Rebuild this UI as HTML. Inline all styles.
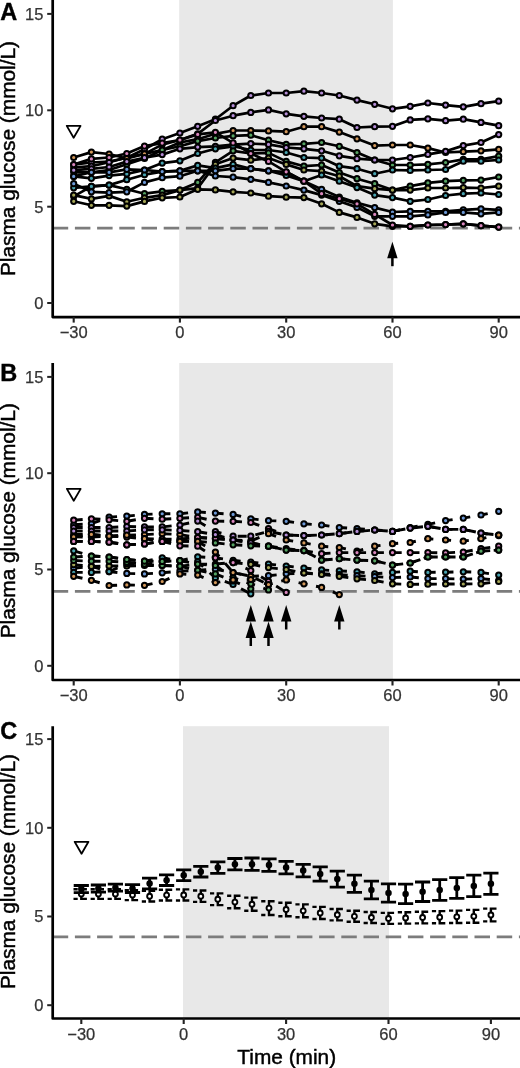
<!DOCTYPE html>
<html lang="en"><head><meta charset="utf-8"><title>Plasma glucose</title>
<style>
html,body{margin:0;padding:0;background:#fff}
svg{display:block}
text{font-family:"Liberation Sans",Arial,Helvetica,sans-serif}
.tk{font-size:16.5px;fill:#333;stroke:#333;stroke-width:.25px}
.lab{font-size:20.85px;fill:#000;stroke:#000;stroke-width:.45px}
.pl{font-size:23.5px;font-weight:bold;fill:#000;stroke:#000;stroke-width:.4px}
</style></head><body>
<svg width="520" height="1068" viewBox="0 0 520 1068">
<rect width="520" height="1068" fill="#fff"/>
<rect x="179.2" y="0.0" width="213.7" height="317.1" fill="#e8e8e8"/>
<line x1="52.7" y1="228.1" x2="520" y2="228.1" stroke="#7c7c7c" stroke-width="2.6" stroke-dasharray="15.5 6.7"/>
<polyline points="73.7,164.6 91.4,162.5 109.1,161.6 126.8,157.7 144.5,149.2 162.2,139.2 179.9,133.0 197.7,126.3 215.4,119.2 233.1,105.7 250.8,95.5 268.5,93.0 286.2,93.0 303.9,91.2 321.6,93.0 339.3,95.5 357.0,100.1 374.7,104.3 392.5,108.8 410.2,106.3 427.9,103.0 445.6,105.1 463.3,106.8 481.0,103.7 498.7,101.2" fill="none" stroke="#000" stroke-width="2.7" stroke-linejoin="round"/>
<polyline points="73.7,167.5 91.4,166.2 109.1,162.3 126.8,157.5 144.5,153.9 162.2,144.6 179.9,140.0 197.7,133.8 215.4,120.5 233.1,115.7 250.8,112.4 268.5,109.9 286.2,113.8 303.9,116.3 321.6,118.0 339.3,119.2 357.0,127.5 374.7,126.7 392.5,126.3 410.2,119.9 427.9,118.8 445.6,120.7 463.3,119.2 481.0,122.4 498.7,125.7" fill="none" stroke="#000" stroke-width="2.7" stroke-linejoin="round"/>
<polyline points="73.7,157.5 91.4,152.1 109.1,154.0 126.8,158.5 144.5,153.9 162.2,150.0 179.9,142.5 197.7,139.2 215.4,133.8 233.1,130.5 250.8,130.5 268.5,130.9 286.2,131.7 303.9,126.7 321.6,126.7 339.3,132.1 357.0,138.8 374.7,145.6 392.5,145.0 410.2,145.0 427.9,148.1 445.6,152.5 463.3,151.7 481.0,150.8 498.7,149.4" fill="none" stroke="#000" stroke-width="2.7" stroke-linejoin="round"/>
<polyline points="73.7,172.3 91.4,172.3 109.1,170.0 126.8,164.3 144.5,158.5 162.2,150.0 179.9,146.3 197.7,141.1 215.4,138.0 233.1,135.9 250.8,135.2 268.5,140.2 286.2,144.4 303.9,143.8 321.6,142.5 339.3,146.3 357.0,152.5 374.7,160.0 392.5,165.0 410.2,165.0 427.9,164.3 445.6,162.5 463.3,159.4 481.0,159.4 498.7,156.2" fill="none" stroke="#000" stroke-width="2.7" stroke-linejoin="round"/>
<polyline points="73.7,170.2 91.4,168.9 109.1,167.0 126.8,161.6 144.5,157.7 162.2,154.6 179.9,148.8 197.7,147.1 215.4,146.3 233.1,144.6 250.8,143.6 268.5,144.4 286.2,147.5 303.9,148.8 321.6,150.8 339.3,155.8 357.0,158.7 374.7,160.0 392.5,160.0 410.2,157.5 427.9,154.4 445.6,151.3 463.3,145.6 481.0,142.5 498.7,134.6" fill="none" stroke="#000" stroke-width="2.7" stroke-linejoin="round"/>
<polyline points="73.7,176.4 91.4,178.3 109.1,175.6 126.8,173.9 144.5,170.0 162.2,163.1 179.9,160.8 197.7,153.5 215.4,148.8 233.1,146.3 250.8,150.0 268.5,150.0 286.2,152.5 303.9,157.5 321.6,158.1 339.3,166.2 357.0,168.7 374.7,173.7 392.5,170.0 410.2,170.4 427.9,170.0 445.6,169.5 463.3,161.2 481.0,161.2 498.7,160.0" fill="none" stroke="#000" stroke-width="2.7" stroke-linejoin="round"/>
<polyline points="73.7,196.4 91.4,186.4 109.1,185.1 126.8,189.3 144.5,193.7 162.2,191.4 179.9,190.1 197.7,182.4 215.4,162.3 233.1,150.8 250.8,153.5 268.5,152.9 286.2,161.4 303.9,166.2 321.6,165.0 339.3,172.5 357.0,178.7 374.7,183.7 392.5,190.1 410.2,186.2 427.9,182.9 445.6,181.2 463.3,180.4 481.0,180.1 498.7,177.0" fill="none" stroke="#000" stroke-width="2.7" stroke-linejoin="round"/>
<polyline points="73.7,195.1 91.4,198.9 109.1,195.9 126.8,201.8 144.5,197.8 162.2,195.1 179.9,190.1 197.7,188.2 215.4,164.3 233.1,158.1 250.8,160.2 268.5,158.1 286.2,164.4 303.9,170.0 321.6,171.2 339.3,176.2 357.0,186.2 374.7,188.7 392.5,190.1 410.2,190.1 427.9,188.0 445.6,188.0 463.3,187.6 481.0,188.0 498.7,186.2" fill="none" stroke="#000" stroke-width="2.7" stroke-linejoin="round"/>
<polyline points="73.7,187.8 91.4,186.4 109.1,185.1 126.8,179.7 144.5,174.7 162.2,171.6 179.9,170.8 197.7,165.4 215.4,168.1 233.1,164.4 250.8,168.7 268.5,170.8 286.2,175.4 303.9,181.2 321.6,175.0 339.3,181.2 357.0,187.6 374.7,195.1 392.5,197.6 410.2,201.3 427.9,199.5 445.6,195.5 463.3,193.7 481.0,193.0 498.7,194.5" fill="none" stroke="#000" stroke-width="2.7" stroke-linejoin="round"/>
<polyline points="73.7,176.4 91.4,172.3 109.1,172.3 126.8,169.3 144.5,170.0 162.2,171.6 179.9,170.8 197.7,170.8 215.4,170.8 233.1,168.7 250.8,168.7 268.5,170.8 286.2,172.0 303.9,181.2 321.6,189.3 339.3,197.0 357.0,202.8 374.7,207.6 392.5,212.0 410.2,211.3 427.9,211.3 445.6,211.3 463.3,209.9 481.0,208.8 498.7,209.9" fill="none" stroke="#000" stroke-width="2.7" stroke-linejoin="round"/>
<polyline points="73.7,183.7 91.4,191.8 109.1,192.6 126.8,191.8 144.5,182.4 162.2,177.7 179.9,176.2 197.7,170.8 215.4,176.0 233.1,177.2 250.8,179.3 268.5,182.4 286.2,186.0 303.9,190.1 321.6,195.1 339.3,201.3 357.0,207.4 374.7,216.3 392.5,216.3 410.2,216.3 427.9,214.9 445.6,212.4 463.3,212.4 481.0,213.8 498.7,212.4" fill="none" stroke="#000" stroke-width="2.7" stroke-linejoin="round"/>
<polyline points="73.7,201.3 91.4,205.3 109.1,205.3 126.8,206.1 144.5,201.4 162.2,197.8 179.9,197.0 197.7,189.3 215.4,189.9 233.1,191.8 250.8,193.0 268.5,196.2 286.2,197.2 303.9,197.6 321.6,203.8 339.3,212.4 357.0,217.4 374.7,223.8 392.5,226.3 410.2,226.3 427.9,225.0 445.6,224.6 463.3,223.8 481.0,225.7 498.7,227.1" fill="none" stroke="#000" stroke-width="2.7" stroke-linejoin="round"/>
<polyline points="73.7,164.6 91.4,158.9 109.1,157.5 126.8,153.5 144.5,146.1 162.2,143.1 179.9,140.0 197.7,134.4 215.4,132.3 233.1,142.9 250.8,153.5 268.5,161.4 286.2,171.8 303.9,181.2 321.6,193.7 339.3,198.7 357.0,203.8 374.7,214.4 392.5,225.0 410.2,226.3 427.9,225.0 445.6,224.6 463.3,223.8 481.0,225.7 498.7,227.1" fill="none" stroke="#000" stroke-width="2.7" stroke-linejoin="round"/>
<circle cx="73.7" cy="164.6" r="2.6" fill="#b48cd6" stroke="#000" stroke-width="2"/>
<circle cx="91.4" cy="162.5" r="2.6" fill="#b48cd6" stroke="#000" stroke-width="2"/>
<circle cx="109.1" cy="161.6" r="2.6" fill="#b48cd6" stroke="#000" stroke-width="2"/>
<circle cx="126.8" cy="157.7" r="2.6" fill="#b48cd6" stroke="#000" stroke-width="2"/>
<circle cx="144.5" cy="149.2" r="2.6" fill="#b48cd6" stroke="#000" stroke-width="2"/>
<circle cx="162.2" cy="139.2" r="2.6" fill="#b48cd6" stroke="#000" stroke-width="2"/>
<circle cx="179.9" cy="133.0" r="2.6" fill="#b48cd6" stroke="#000" stroke-width="2"/>
<circle cx="197.7" cy="126.3" r="2.6" fill="#b48cd6" stroke="#000" stroke-width="2"/>
<circle cx="215.4" cy="119.2" r="2.6" fill="#b48cd6" stroke="#000" stroke-width="2"/>
<circle cx="233.1" cy="105.7" r="2.6" fill="#b48cd6" stroke="#000" stroke-width="2"/>
<circle cx="250.8" cy="95.5" r="2.6" fill="#b48cd6" stroke="#000" stroke-width="2"/>
<circle cx="268.5" cy="93.0" r="2.6" fill="#b48cd6" stroke="#000" stroke-width="2"/>
<circle cx="286.2" cy="93.0" r="2.6" fill="#b48cd6" stroke="#000" stroke-width="2"/>
<circle cx="303.9" cy="91.2" r="2.6" fill="#b48cd6" stroke="#000" stroke-width="2"/>
<circle cx="321.6" cy="93.0" r="2.6" fill="#b48cd6" stroke="#000" stroke-width="2"/>
<circle cx="339.3" cy="95.5" r="2.6" fill="#b48cd6" stroke="#000" stroke-width="2"/>
<circle cx="357.0" cy="100.1" r="2.6" fill="#b48cd6" stroke="#000" stroke-width="2"/>
<circle cx="374.7" cy="104.3" r="2.6" fill="#b48cd6" stroke="#000" stroke-width="2"/>
<circle cx="392.5" cy="108.8" r="2.6" fill="#b48cd6" stroke="#000" stroke-width="2"/>
<circle cx="410.2" cy="106.3" r="2.6" fill="#b48cd6" stroke="#000" stroke-width="2"/>
<circle cx="427.9" cy="103.0" r="2.6" fill="#b48cd6" stroke="#000" stroke-width="2"/>
<circle cx="445.6" cy="105.1" r="2.6" fill="#b48cd6" stroke="#000" stroke-width="2"/>
<circle cx="463.3" cy="106.8" r="2.6" fill="#b48cd6" stroke="#000" stroke-width="2"/>
<circle cx="481.0" cy="103.7" r="2.6" fill="#b48cd6" stroke="#000" stroke-width="2"/>
<circle cx="498.7" cy="101.2" r="2.6" fill="#b48cd6" stroke="#000" stroke-width="2"/>
<circle cx="73.7" cy="167.5" r="2.6" fill="#b48cd6" stroke="#000" stroke-width="2"/>
<circle cx="91.4" cy="166.2" r="2.6" fill="#b48cd6" stroke="#000" stroke-width="2"/>
<circle cx="109.1" cy="162.3" r="2.6" fill="#b48cd6" stroke="#000" stroke-width="2"/>
<circle cx="126.8" cy="157.5" r="2.6" fill="#b48cd6" stroke="#000" stroke-width="2"/>
<circle cx="144.5" cy="153.9" r="2.6" fill="#b48cd6" stroke="#000" stroke-width="2"/>
<circle cx="162.2" cy="144.6" r="2.6" fill="#b48cd6" stroke="#000" stroke-width="2"/>
<circle cx="179.9" cy="140.0" r="2.6" fill="#b48cd6" stroke="#000" stroke-width="2"/>
<circle cx="197.7" cy="133.8" r="2.6" fill="#b48cd6" stroke="#000" stroke-width="2"/>
<circle cx="215.4" cy="120.5" r="2.6" fill="#b48cd6" stroke="#000" stroke-width="2"/>
<circle cx="233.1" cy="115.7" r="2.6" fill="#b48cd6" stroke="#000" stroke-width="2"/>
<circle cx="250.8" cy="112.4" r="2.6" fill="#b48cd6" stroke="#000" stroke-width="2"/>
<circle cx="268.5" cy="109.9" r="2.6" fill="#b48cd6" stroke="#000" stroke-width="2"/>
<circle cx="286.2" cy="113.8" r="2.6" fill="#b48cd6" stroke="#000" stroke-width="2"/>
<circle cx="303.9" cy="116.3" r="2.6" fill="#b48cd6" stroke="#000" stroke-width="2"/>
<circle cx="321.6" cy="118.0" r="2.6" fill="#b48cd6" stroke="#000" stroke-width="2"/>
<circle cx="339.3" cy="119.2" r="2.6" fill="#b48cd6" stroke="#000" stroke-width="2"/>
<circle cx="357.0" cy="127.5" r="2.6" fill="#b48cd6" stroke="#000" stroke-width="2"/>
<circle cx="374.7" cy="126.7" r="2.6" fill="#b48cd6" stroke="#000" stroke-width="2"/>
<circle cx="392.5" cy="126.3" r="2.6" fill="#b48cd6" stroke="#000" stroke-width="2"/>
<circle cx="410.2" cy="119.9" r="2.6" fill="#b48cd6" stroke="#000" stroke-width="2"/>
<circle cx="427.9" cy="118.8" r="2.6" fill="#b48cd6" stroke="#000" stroke-width="2"/>
<circle cx="445.6" cy="120.7" r="2.6" fill="#b48cd6" stroke="#000" stroke-width="2"/>
<circle cx="463.3" cy="119.2" r="2.6" fill="#b48cd6" stroke="#000" stroke-width="2"/>
<circle cx="481.0" cy="122.4" r="2.6" fill="#b48cd6" stroke="#000" stroke-width="2"/>
<circle cx="498.7" cy="125.7" r="2.6" fill="#b48cd6" stroke="#000" stroke-width="2"/>
<circle cx="73.7" cy="157.5" r="2.6" fill="#d2975a" stroke="#000" stroke-width="2"/>
<circle cx="91.4" cy="152.1" r="2.6" fill="#d2975a" stroke="#000" stroke-width="2"/>
<circle cx="109.1" cy="154.0" r="2.6" fill="#d2975a" stroke="#000" stroke-width="2"/>
<circle cx="126.8" cy="158.5" r="2.6" fill="#d2975a" stroke="#000" stroke-width="2"/>
<circle cx="144.5" cy="153.9" r="2.6" fill="#d2975a" stroke="#000" stroke-width="2"/>
<circle cx="162.2" cy="150.0" r="2.6" fill="#d2975a" stroke="#000" stroke-width="2"/>
<circle cx="179.9" cy="142.5" r="2.6" fill="#d2975a" stroke="#000" stroke-width="2"/>
<circle cx="197.7" cy="139.2" r="2.6" fill="#d2975a" stroke="#000" stroke-width="2"/>
<circle cx="215.4" cy="133.8" r="2.6" fill="#d2975a" stroke="#000" stroke-width="2"/>
<circle cx="233.1" cy="130.5" r="2.6" fill="#d2975a" stroke="#000" stroke-width="2"/>
<circle cx="250.8" cy="130.5" r="2.6" fill="#d2975a" stroke="#000" stroke-width="2"/>
<circle cx="268.5" cy="130.9" r="2.6" fill="#d2975a" stroke="#000" stroke-width="2"/>
<circle cx="286.2" cy="131.7" r="2.6" fill="#d2975a" stroke="#000" stroke-width="2"/>
<circle cx="303.9" cy="126.7" r="2.6" fill="#d2975a" stroke="#000" stroke-width="2"/>
<circle cx="321.6" cy="126.7" r="2.6" fill="#d2975a" stroke="#000" stroke-width="2"/>
<circle cx="339.3" cy="132.1" r="2.6" fill="#d2975a" stroke="#000" stroke-width="2"/>
<circle cx="357.0" cy="138.8" r="2.6" fill="#d2975a" stroke="#000" stroke-width="2"/>
<circle cx="374.7" cy="145.6" r="2.6" fill="#d2975a" stroke="#000" stroke-width="2"/>
<circle cx="392.5" cy="145.0" r="2.6" fill="#d2975a" stroke="#000" stroke-width="2"/>
<circle cx="410.2" cy="145.0" r="2.6" fill="#d2975a" stroke="#000" stroke-width="2"/>
<circle cx="427.9" cy="148.1" r="2.6" fill="#d2975a" stroke="#000" stroke-width="2"/>
<circle cx="445.6" cy="152.5" r="2.6" fill="#d2975a" stroke="#000" stroke-width="2"/>
<circle cx="463.3" cy="151.7" r="2.6" fill="#d2975a" stroke="#000" stroke-width="2"/>
<circle cx="481.0" cy="150.8" r="2.6" fill="#d2975a" stroke="#000" stroke-width="2"/>
<circle cx="498.7" cy="149.4" r="2.6" fill="#d2975a" stroke="#000" stroke-width="2"/>
<circle cx="73.7" cy="172.3" r="2.6" fill="#55a362" stroke="#000" stroke-width="2"/>
<circle cx="91.4" cy="172.3" r="2.6" fill="#55a362" stroke="#000" stroke-width="2"/>
<circle cx="109.1" cy="170.0" r="2.6" fill="#55a362" stroke="#000" stroke-width="2"/>
<circle cx="126.8" cy="164.3" r="2.6" fill="#55a362" stroke="#000" stroke-width="2"/>
<circle cx="144.5" cy="158.5" r="2.6" fill="#55a362" stroke="#000" stroke-width="2"/>
<circle cx="162.2" cy="150.0" r="2.6" fill="#55a362" stroke="#000" stroke-width="2"/>
<circle cx="179.9" cy="146.3" r="2.6" fill="#55a362" stroke="#000" stroke-width="2"/>
<circle cx="197.7" cy="141.1" r="2.6" fill="#55a362" stroke="#000" stroke-width="2"/>
<circle cx="215.4" cy="138.0" r="2.6" fill="#55a362" stroke="#000" stroke-width="2"/>
<circle cx="233.1" cy="135.9" r="2.6" fill="#55a362" stroke="#000" stroke-width="2"/>
<circle cx="250.8" cy="135.2" r="2.6" fill="#55a362" stroke="#000" stroke-width="2"/>
<circle cx="268.5" cy="140.2" r="2.6" fill="#55a362" stroke="#000" stroke-width="2"/>
<circle cx="286.2" cy="144.4" r="2.6" fill="#55a362" stroke="#000" stroke-width="2"/>
<circle cx="303.9" cy="143.8" r="2.6" fill="#55a362" stroke="#000" stroke-width="2"/>
<circle cx="321.6" cy="142.5" r="2.6" fill="#55a362" stroke="#000" stroke-width="2"/>
<circle cx="339.3" cy="146.3" r="2.6" fill="#55a362" stroke="#000" stroke-width="2"/>
<circle cx="357.0" cy="152.5" r="2.6" fill="#55a362" stroke="#000" stroke-width="2"/>
<circle cx="374.7" cy="160.0" r="2.6" fill="#55a362" stroke="#000" stroke-width="2"/>
<circle cx="392.5" cy="165.0" r="2.6" fill="#55a362" stroke="#000" stroke-width="2"/>
<circle cx="410.2" cy="165.0" r="2.6" fill="#55a362" stroke="#000" stroke-width="2"/>
<circle cx="427.9" cy="164.3" r="2.6" fill="#55a362" stroke="#000" stroke-width="2"/>
<circle cx="445.6" cy="162.5" r="2.6" fill="#55a362" stroke="#000" stroke-width="2"/>
<circle cx="463.3" cy="159.4" r="2.6" fill="#55a362" stroke="#000" stroke-width="2"/>
<circle cx="481.0" cy="159.4" r="2.6" fill="#55a362" stroke="#000" stroke-width="2"/>
<circle cx="498.7" cy="156.2" r="2.6" fill="#55a362" stroke="#000" stroke-width="2"/>
<circle cx="73.7" cy="170.2" r="2.6" fill="#b48cd6" stroke="#000" stroke-width="2"/>
<circle cx="91.4" cy="168.9" r="2.6" fill="#b48cd6" stroke="#000" stroke-width="2"/>
<circle cx="109.1" cy="167.0" r="2.6" fill="#b48cd6" stroke="#000" stroke-width="2"/>
<circle cx="126.8" cy="161.6" r="2.6" fill="#b48cd6" stroke="#000" stroke-width="2"/>
<circle cx="144.5" cy="157.7" r="2.6" fill="#b48cd6" stroke="#000" stroke-width="2"/>
<circle cx="162.2" cy="154.6" r="2.6" fill="#b48cd6" stroke="#000" stroke-width="2"/>
<circle cx="179.9" cy="148.8" r="2.6" fill="#b48cd6" stroke="#000" stroke-width="2"/>
<circle cx="197.7" cy="147.1" r="2.6" fill="#b48cd6" stroke="#000" stroke-width="2"/>
<circle cx="215.4" cy="146.3" r="2.6" fill="#b48cd6" stroke="#000" stroke-width="2"/>
<circle cx="233.1" cy="144.6" r="2.6" fill="#b48cd6" stroke="#000" stroke-width="2"/>
<circle cx="250.8" cy="143.6" r="2.6" fill="#b48cd6" stroke="#000" stroke-width="2"/>
<circle cx="268.5" cy="144.4" r="2.6" fill="#b48cd6" stroke="#000" stroke-width="2"/>
<circle cx="286.2" cy="147.5" r="2.6" fill="#b48cd6" stroke="#000" stroke-width="2"/>
<circle cx="303.9" cy="148.8" r="2.6" fill="#b48cd6" stroke="#000" stroke-width="2"/>
<circle cx="321.6" cy="150.8" r="2.6" fill="#b48cd6" stroke="#000" stroke-width="2"/>
<circle cx="339.3" cy="155.8" r="2.6" fill="#b48cd6" stroke="#000" stroke-width="2"/>
<circle cx="357.0" cy="158.7" r="2.6" fill="#b48cd6" stroke="#000" stroke-width="2"/>
<circle cx="374.7" cy="160.0" r="2.6" fill="#b48cd6" stroke="#000" stroke-width="2"/>
<circle cx="392.5" cy="160.0" r="2.6" fill="#b48cd6" stroke="#000" stroke-width="2"/>
<circle cx="410.2" cy="157.5" r="2.6" fill="#b48cd6" stroke="#000" stroke-width="2"/>
<circle cx="427.9" cy="154.4" r="2.6" fill="#b48cd6" stroke="#000" stroke-width="2"/>
<circle cx="445.6" cy="151.3" r="2.6" fill="#b48cd6" stroke="#000" stroke-width="2"/>
<circle cx="463.3" cy="145.6" r="2.6" fill="#b48cd6" stroke="#000" stroke-width="2"/>
<circle cx="481.0" cy="142.5" r="2.6" fill="#b48cd6" stroke="#000" stroke-width="2"/>
<circle cx="498.7" cy="134.6" r="2.6" fill="#b48cd6" stroke="#000" stroke-width="2"/>
<circle cx="73.7" cy="176.4" r="2.6" fill="#48a3b0" stroke="#000" stroke-width="2"/>
<circle cx="91.4" cy="178.3" r="2.6" fill="#48a3b0" stroke="#000" stroke-width="2"/>
<circle cx="109.1" cy="175.6" r="2.6" fill="#48a3b0" stroke="#000" stroke-width="2"/>
<circle cx="126.8" cy="173.9" r="2.6" fill="#48a3b0" stroke="#000" stroke-width="2"/>
<circle cx="144.5" cy="170.0" r="2.6" fill="#48a3b0" stroke="#000" stroke-width="2"/>
<circle cx="162.2" cy="163.1" r="2.6" fill="#48a3b0" stroke="#000" stroke-width="2"/>
<circle cx="179.9" cy="160.8" r="2.6" fill="#48a3b0" stroke="#000" stroke-width="2"/>
<circle cx="197.7" cy="153.5" r="2.6" fill="#48a3b0" stroke="#000" stroke-width="2"/>
<circle cx="215.4" cy="148.8" r="2.6" fill="#48a3b0" stroke="#000" stroke-width="2"/>
<circle cx="233.1" cy="146.3" r="2.6" fill="#48a3b0" stroke="#000" stroke-width="2"/>
<circle cx="250.8" cy="150.0" r="2.6" fill="#48a3b0" stroke="#000" stroke-width="2"/>
<circle cx="268.5" cy="150.0" r="2.6" fill="#48a3b0" stroke="#000" stroke-width="2"/>
<circle cx="286.2" cy="152.5" r="2.6" fill="#48a3b0" stroke="#000" stroke-width="2"/>
<circle cx="303.9" cy="157.5" r="2.6" fill="#48a3b0" stroke="#000" stroke-width="2"/>
<circle cx="321.6" cy="158.1" r="2.6" fill="#48a3b0" stroke="#000" stroke-width="2"/>
<circle cx="339.3" cy="166.2" r="2.6" fill="#48a3b0" stroke="#000" stroke-width="2"/>
<circle cx="357.0" cy="168.7" r="2.6" fill="#48a3b0" stroke="#000" stroke-width="2"/>
<circle cx="374.7" cy="173.7" r="2.6" fill="#48a3b0" stroke="#000" stroke-width="2"/>
<circle cx="392.5" cy="170.0" r="2.6" fill="#48a3b0" stroke="#000" stroke-width="2"/>
<circle cx="410.2" cy="170.4" r="2.6" fill="#48a3b0" stroke="#000" stroke-width="2"/>
<circle cx="427.9" cy="170.0" r="2.6" fill="#48a3b0" stroke="#000" stroke-width="2"/>
<circle cx="445.6" cy="169.5" r="2.6" fill="#48a3b0" stroke="#000" stroke-width="2"/>
<circle cx="463.3" cy="161.2" r="2.6" fill="#48a3b0" stroke="#000" stroke-width="2"/>
<circle cx="481.0" cy="161.2" r="2.6" fill="#48a3b0" stroke="#000" stroke-width="2"/>
<circle cx="498.7" cy="160.0" r="2.6" fill="#48a3b0" stroke="#000" stroke-width="2"/>
<circle cx="73.7" cy="196.4" r="2.6" fill="#55a362" stroke="#000" stroke-width="2"/>
<circle cx="91.4" cy="186.4" r="2.6" fill="#55a362" stroke="#000" stroke-width="2"/>
<circle cx="109.1" cy="185.1" r="2.6" fill="#55a362" stroke="#000" stroke-width="2"/>
<circle cx="126.8" cy="189.3" r="2.6" fill="#55a362" stroke="#000" stroke-width="2"/>
<circle cx="144.5" cy="193.7" r="2.6" fill="#55a362" stroke="#000" stroke-width="2"/>
<circle cx="162.2" cy="191.4" r="2.6" fill="#55a362" stroke="#000" stroke-width="2"/>
<circle cx="179.9" cy="190.1" r="2.6" fill="#55a362" stroke="#000" stroke-width="2"/>
<circle cx="197.7" cy="182.4" r="2.6" fill="#55a362" stroke="#000" stroke-width="2"/>
<circle cx="215.4" cy="162.3" r="2.6" fill="#55a362" stroke="#000" stroke-width="2"/>
<circle cx="233.1" cy="150.8" r="2.6" fill="#55a362" stroke="#000" stroke-width="2"/>
<circle cx="250.8" cy="153.5" r="2.6" fill="#55a362" stroke="#000" stroke-width="2"/>
<circle cx="268.5" cy="152.9" r="2.6" fill="#55a362" stroke="#000" stroke-width="2"/>
<circle cx="286.2" cy="161.4" r="2.6" fill="#55a362" stroke="#000" stroke-width="2"/>
<circle cx="303.9" cy="166.2" r="2.6" fill="#55a362" stroke="#000" stroke-width="2"/>
<circle cx="321.6" cy="165.0" r="2.6" fill="#55a362" stroke="#000" stroke-width="2"/>
<circle cx="339.3" cy="172.5" r="2.6" fill="#55a362" stroke="#000" stroke-width="2"/>
<circle cx="357.0" cy="178.7" r="2.6" fill="#55a362" stroke="#000" stroke-width="2"/>
<circle cx="374.7" cy="183.7" r="2.6" fill="#55a362" stroke="#000" stroke-width="2"/>
<circle cx="392.5" cy="190.1" r="2.6" fill="#55a362" stroke="#000" stroke-width="2"/>
<circle cx="410.2" cy="186.2" r="2.6" fill="#55a362" stroke="#000" stroke-width="2"/>
<circle cx="427.9" cy="182.9" r="2.6" fill="#55a362" stroke="#000" stroke-width="2"/>
<circle cx="445.6" cy="181.2" r="2.6" fill="#55a362" stroke="#000" stroke-width="2"/>
<circle cx="463.3" cy="180.4" r="2.6" fill="#55a362" stroke="#000" stroke-width="2"/>
<circle cx="481.0" cy="180.1" r="2.6" fill="#55a362" stroke="#000" stroke-width="2"/>
<circle cx="498.7" cy="177.0" r="2.6" fill="#55a362" stroke="#000" stroke-width="2"/>
<circle cx="73.7" cy="195.1" r="2.6" fill="#a3a455" stroke="#000" stroke-width="2"/>
<circle cx="91.4" cy="198.9" r="2.6" fill="#a3a455" stroke="#000" stroke-width="2"/>
<circle cx="109.1" cy="195.9" r="2.6" fill="#a3a455" stroke="#000" stroke-width="2"/>
<circle cx="126.8" cy="201.8" r="2.6" fill="#a3a455" stroke="#000" stroke-width="2"/>
<circle cx="144.5" cy="197.8" r="2.6" fill="#a3a455" stroke="#000" stroke-width="2"/>
<circle cx="162.2" cy="195.1" r="2.6" fill="#a3a455" stroke="#000" stroke-width="2"/>
<circle cx="179.9" cy="190.1" r="2.6" fill="#a3a455" stroke="#000" stroke-width="2"/>
<circle cx="197.7" cy="188.2" r="2.6" fill="#a3a455" stroke="#000" stroke-width="2"/>
<circle cx="215.4" cy="164.3" r="2.6" fill="#a3a455" stroke="#000" stroke-width="2"/>
<circle cx="233.1" cy="158.1" r="2.6" fill="#a3a455" stroke="#000" stroke-width="2"/>
<circle cx="250.8" cy="160.2" r="2.6" fill="#a3a455" stroke="#000" stroke-width="2"/>
<circle cx="268.5" cy="158.1" r="2.6" fill="#a3a455" stroke="#000" stroke-width="2"/>
<circle cx="286.2" cy="164.4" r="2.6" fill="#a3a455" stroke="#000" stroke-width="2"/>
<circle cx="303.9" cy="170.0" r="2.6" fill="#a3a455" stroke="#000" stroke-width="2"/>
<circle cx="321.6" cy="171.2" r="2.6" fill="#a3a455" stroke="#000" stroke-width="2"/>
<circle cx="339.3" cy="176.2" r="2.6" fill="#a3a455" stroke="#000" stroke-width="2"/>
<circle cx="357.0" cy="186.2" r="2.6" fill="#a3a455" stroke="#000" stroke-width="2"/>
<circle cx="374.7" cy="188.7" r="2.6" fill="#a3a455" stroke="#000" stroke-width="2"/>
<circle cx="392.5" cy="190.1" r="2.6" fill="#a3a455" stroke="#000" stroke-width="2"/>
<circle cx="410.2" cy="190.1" r="2.6" fill="#a3a455" stroke="#000" stroke-width="2"/>
<circle cx="427.9" cy="188.0" r="2.6" fill="#a3a455" stroke="#000" stroke-width="2"/>
<circle cx="445.6" cy="188.0" r="2.6" fill="#a3a455" stroke="#000" stroke-width="2"/>
<circle cx="463.3" cy="187.6" r="2.6" fill="#a3a455" stroke="#000" stroke-width="2"/>
<circle cx="481.0" cy="188.0" r="2.6" fill="#a3a455" stroke="#000" stroke-width="2"/>
<circle cx="498.7" cy="186.2" r="2.6" fill="#a3a455" stroke="#000" stroke-width="2"/>
<circle cx="73.7" cy="187.8" r="2.6" fill="#48a3b0" stroke="#000" stroke-width="2"/>
<circle cx="91.4" cy="186.4" r="2.6" fill="#48a3b0" stroke="#000" stroke-width="2"/>
<circle cx="109.1" cy="185.1" r="2.6" fill="#48a3b0" stroke="#000" stroke-width="2"/>
<circle cx="126.8" cy="179.7" r="2.6" fill="#48a3b0" stroke="#000" stroke-width="2"/>
<circle cx="144.5" cy="174.7" r="2.6" fill="#48a3b0" stroke="#000" stroke-width="2"/>
<circle cx="162.2" cy="171.6" r="2.6" fill="#48a3b0" stroke="#000" stroke-width="2"/>
<circle cx="179.9" cy="170.8" r="2.6" fill="#48a3b0" stroke="#000" stroke-width="2"/>
<circle cx="197.7" cy="165.4" r="2.6" fill="#48a3b0" stroke="#000" stroke-width="2"/>
<circle cx="215.4" cy="168.1" r="2.6" fill="#48a3b0" stroke="#000" stroke-width="2"/>
<circle cx="233.1" cy="164.4" r="2.6" fill="#48a3b0" stroke="#000" stroke-width="2"/>
<circle cx="250.8" cy="168.7" r="2.6" fill="#48a3b0" stroke="#000" stroke-width="2"/>
<circle cx="268.5" cy="170.8" r="2.6" fill="#48a3b0" stroke="#000" stroke-width="2"/>
<circle cx="286.2" cy="175.4" r="2.6" fill="#48a3b0" stroke="#000" stroke-width="2"/>
<circle cx="303.9" cy="181.2" r="2.6" fill="#48a3b0" stroke="#000" stroke-width="2"/>
<circle cx="321.6" cy="175.0" r="2.6" fill="#48a3b0" stroke="#000" stroke-width="2"/>
<circle cx="339.3" cy="181.2" r="2.6" fill="#48a3b0" stroke="#000" stroke-width="2"/>
<circle cx="357.0" cy="187.6" r="2.6" fill="#48a3b0" stroke="#000" stroke-width="2"/>
<circle cx="374.7" cy="195.1" r="2.6" fill="#48a3b0" stroke="#000" stroke-width="2"/>
<circle cx="392.5" cy="197.6" r="2.6" fill="#48a3b0" stroke="#000" stroke-width="2"/>
<circle cx="410.2" cy="201.3" r="2.6" fill="#48a3b0" stroke="#000" stroke-width="2"/>
<circle cx="427.9" cy="199.5" r="2.6" fill="#48a3b0" stroke="#000" stroke-width="2"/>
<circle cx="445.6" cy="195.5" r="2.6" fill="#48a3b0" stroke="#000" stroke-width="2"/>
<circle cx="463.3" cy="193.7" r="2.6" fill="#48a3b0" stroke="#000" stroke-width="2"/>
<circle cx="481.0" cy="193.0" r="2.6" fill="#48a3b0" stroke="#000" stroke-width="2"/>
<circle cx="498.7" cy="194.5" r="2.6" fill="#48a3b0" stroke="#000" stroke-width="2"/>
<circle cx="73.7" cy="176.4" r="2.6" fill="#6c98d6" stroke="#000" stroke-width="2"/>
<circle cx="91.4" cy="172.3" r="2.6" fill="#6c98d6" stroke="#000" stroke-width="2"/>
<circle cx="109.1" cy="172.3" r="2.6" fill="#6c98d6" stroke="#000" stroke-width="2"/>
<circle cx="126.8" cy="169.3" r="2.6" fill="#6c98d6" stroke="#000" stroke-width="2"/>
<circle cx="144.5" cy="170.0" r="2.6" fill="#6c98d6" stroke="#000" stroke-width="2"/>
<circle cx="162.2" cy="171.6" r="2.6" fill="#6c98d6" stroke="#000" stroke-width="2"/>
<circle cx="179.9" cy="170.8" r="2.6" fill="#6c98d6" stroke="#000" stroke-width="2"/>
<circle cx="197.7" cy="170.8" r="2.6" fill="#6c98d6" stroke="#000" stroke-width="2"/>
<circle cx="215.4" cy="170.8" r="2.6" fill="#6c98d6" stroke="#000" stroke-width="2"/>
<circle cx="233.1" cy="168.7" r="2.6" fill="#6c98d6" stroke="#000" stroke-width="2"/>
<circle cx="250.8" cy="168.7" r="2.6" fill="#6c98d6" stroke="#000" stroke-width="2"/>
<circle cx="268.5" cy="170.8" r="2.6" fill="#6c98d6" stroke="#000" stroke-width="2"/>
<circle cx="286.2" cy="172.0" r="2.6" fill="#6c98d6" stroke="#000" stroke-width="2"/>
<circle cx="303.9" cy="181.2" r="2.6" fill="#6c98d6" stroke="#000" stroke-width="2"/>
<circle cx="321.6" cy="189.3" r="2.6" fill="#6c98d6" stroke="#000" stroke-width="2"/>
<circle cx="339.3" cy="197.0" r="2.6" fill="#6c98d6" stroke="#000" stroke-width="2"/>
<circle cx="357.0" cy="202.8" r="2.6" fill="#6c98d6" stroke="#000" stroke-width="2"/>
<circle cx="374.7" cy="207.6" r="2.6" fill="#6c98d6" stroke="#000" stroke-width="2"/>
<circle cx="392.5" cy="212.0" r="2.6" fill="#6c98d6" stroke="#000" stroke-width="2"/>
<circle cx="410.2" cy="211.3" r="2.6" fill="#6c98d6" stroke="#000" stroke-width="2"/>
<circle cx="427.9" cy="211.3" r="2.6" fill="#6c98d6" stroke="#000" stroke-width="2"/>
<circle cx="445.6" cy="211.3" r="2.6" fill="#6c98d6" stroke="#000" stroke-width="2"/>
<circle cx="463.3" cy="209.9" r="2.6" fill="#6c98d6" stroke="#000" stroke-width="2"/>
<circle cx="481.0" cy="208.8" r="2.6" fill="#6c98d6" stroke="#000" stroke-width="2"/>
<circle cx="498.7" cy="209.9" r="2.6" fill="#6c98d6" stroke="#000" stroke-width="2"/>
<circle cx="73.7" cy="183.7" r="2.6" fill="#6c98d6" stroke="#000" stroke-width="2"/>
<circle cx="91.4" cy="191.8" r="2.6" fill="#6c98d6" stroke="#000" stroke-width="2"/>
<circle cx="109.1" cy="192.6" r="2.6" fill="#6c98d6" stroke="#000" stroke-width="2"/>
<circle cx="126.8" cy="191.8" r="2.6" fill="#6c98d6" stroke="#000" stroke-width="2"/>
<circle cx="144.5" cy="182.4" r="2.6" fill="#6c98d6" stroke="#000" stroke-width="2"/>
<circle cx="162.2" cy="177.7" r="2.6" fill="#6c98d6" stroke="#000" stroke-width="2"/>
<circle cx="179.9" cy="176.2" r="2.6" fill="#6c98d6" stroke="#000" stroke-width="2"/>
<circle cx="197.7" cy="170.8" r="2.6" fill="#6c98d6" stroke="#000" stroke-width="2"/>
<circle cx="215.4" cy="176.0" r="2.6" fill="#6c98d6" stroke="#000" stroke-width="2"/>
<circle cx="233.1" cy="177.2" r="2.6" fill="#6c98d6" stroke="#000" stroke-width="2"/>
<circle cx="250.8" cy="179.3" r="2.6" fill="#6c98d6" stroke="#000" stroke-width="2"/>
<circle cx="268.5" cy="182.4" r="2.6" fill="#6c98d6" stroke="#000" stroke-width="2"/>
<circle cx="286.2" cy="186.0" r="2.6" fill="#6c98d6" stroke="#000" stroke-width="2"/>
<circle cx="303.9" cy="190.1" r="2.6" fill="#6c98d6" stroke="#000" stroke-width="2"/>
<circle cx="321.6" cy="195.1" r="2.6" fill="#6c98d6" stroke="#000" stroke-width="2"/>
<circle cx="339.3" cy="201.3" r="2.6" fill="#6c98d6" stroke="#000" stroke-width="2"/>
<circle cx="357.0" cy="207.4" r="2.6" fill="#6c98d6" stroke="#000" stroke-width="2"/>
<circle cx="374.7" cy="216.3" r="2.6" fill="#6c98d6" stroke="#000" stroke-width="2"/>
<circle cx="392.5" cy="216.3" r="2.6" fill="#6c98d6" stroke="#000" stroke-width="2"/>
<circle cx="410.2" cy="216.3" r="2.6" fill="#6c98d6" stroke="#000" stroke-width="2"/>
<circle cx="427.9" cy="214.9" r="2.6" fill="#6c98d6" stroke="#000" stroke-width="2"/>
<circle cx="445.6" cy="212.4" r="2.6" fill="#6c98d6" stroke="#000" stroke-width="2"/>
<circle cx="463.3" cy="212.4" r="2.6" fill="#6c98d6" stroke="#000" stroke-width="2"/>
<circle cx="481.0" cy="213.8" r="2.6" fill="#6c98d6" stroke="#000" stroke-width="2"/>
<circle cx="498.7" cy="212.4" r="2.6" fill="#6c98d6" stroke="#000" stroke-width="2"/>
<circle cx="73.7" cy="201.3" r="2.6" fill="#a3a455" stroke="#000" stroke-width="2"/>
<circle cx="91.4" cy="205.3" r="2.6" fill="#a3a455" stroke="#000" stroke-width="2"/>
<circle cx="109.1" cy="205.3" r="2.6" fill="#a3a455" stroke="#000" stroke-width="2"/>
<circle cx="126.8" cy="206.1" r="2.6" fill="#a3a455" stroke="#000" stroke-width="2"/>
<circle cx="144.5" cy="201.4" r="2.6" fill="#a3a455" stroke="#000" stroke-width="2"/>
<circle cx="162.2" cy="197.8" r="2.6" fill="#a3a455" stroke="#000" stroke-width="2"/>
<circle cx="179.9" cy="197.0" r="2.6" fill="#a3a455" stroke="#000" stroke-width="2"/>
<circle cx="197.7" cy="189.3" r="2.6" fill="#a3a455" stroke="#000" stroke-width="2"/>
<circle cx="215.4" cy="189.9" r="2.6" fill="#a3a455" stroke="#000" stroke-width="2"/>
<circle cx="233.1" cy="191.8" r="2.6" fill="#a3a455" stroke="#000" stroke-width="2"/>
<circle cx="250.8" cy="193.0" r="2.6" fill="#a3a455" stroke="#000" stroke-width="2"/>
<circle cx="268.5" cy="196.2" r="2.6" fill="#a3a455" stroke="#000" stroke-width="2"/>
<circle cx="286.2" cy="197.2" r="2.6" fill="#a3a455" stroke="#000" stroke-width="2"/>
<circle cx="303.9" cy="197.6" r="2.6" fill="#a3a455" stroke="#000" stroke-width="2"/>
<circle cx="321.6" cy="203.8" r="2.6" fill="#a3a455" stroke="#000" stroke-width="2"/>
<circle cx="339.3" cy="212.4" r="2.6" fill="#a3a455" stroke="#000" stroke-width="2"/>
<circle cx="357.0" cy="217.4" r="2.6" fill="#a3a455" stroke="#000" stroke-width="2"/>
<circle cx="374.7" cy="223.8" r="2.6" fill="#a3a455" stroke="#000" stroke-width="2"/>
<circle cx="392.5" cy="226.3" r="2.6" fill="#a3a455" stroke="#000" stroke-width="2"/>
<circle cx="410.2" cy="226.3" r="2.6" fill="#a3a455" stroke="#000" stroke-width="2"/>
<circle cx="427.9" cy="225.0" r="2.6" fill="#a3a455" stroke="#000" stroke-width="2"/>
<circle cx="445.6" cy="224.6" r="2.6" fill="#a3a455" stroke="#000" stroke-width="2"/>
<circle cx="463.3" cy="223.8" r="2.6" fill="#a3a455" stroke="#000" stroke-width="2"/>
<circle cx="481.0" cy="225.7" r="2.6" fill="#a3a455" stroke="#000" stroke-width="2"/>
<circle cx="498.7" cy="227.1" r="2.6" fill="#a3a455" stroke="#000" stroke-width="2"/>
<circle cx="73.7" cy="164.6" r="2.6" fill="#d985bd" stroke="#000" stroke-width="2"/>
<circle cx="91.4" cy="158.9" r="2.6" fill="#d985bd" stroke="#000" stroke-width="2"/>
<circle cx="109.1" cy="157.5" r="2.6" fill="#d985bd" stroke="#000" stroke-width="2"/>
<circle cx="126.8" cy="153.5" r="2.6" fill="#d985bd" stroke="#000" stroke-width="2"/>
<circle cx="144.5" cy="146.1" r="2.6" fill="#d985bd" stroke="#000" stroke-width="2"/>
<circle cx="162.2" cy="143.1" r="2.6" fill="#d985bd" stroke="#000" stroke-width="2"/>
<circle cx="179.9" cy="140.0" r="2.6" fill="#d985bd" stroke="#000" stroke-width="2"/>
<circle cx="197.7" cy="134.4" r="2.6" fill="#d985bd" stroke="#000" stroke-width="2"/>
<circle cx="215.4" cy="132.3" r="2.6" fill="#d985bd" stroke="#000" stroke-width="2"/>
<circle cx="233.1" cy="142.9" r="2.6" fill="#d985bd" stroke="#000" stroke-width="2"/>
<circle cx="250.8" cy="153.5" r="2.6" fill="#d985bd" stroke="#000" stroke-width="2"/>
<circle cx="268.5" cy="161.4" r="2.6" fill="#d985bd" stroke="#000" stroke-width="2"/>
<circle cx="286.2" cy="171.8" r="2.6" fill="#d985bd" stroke="#000" stroke-width="2"/>
<circle cx="303.9" cy="181.2" r="2.6" fill="#d985bd" stroke="#000" stroke-width="2"/>
<circle cx="321.6" cy="193.7" r="2.6" fill="#d985bd" stroke="#000" stroke-width="2"/>
<circle cx="339.3" cy="198.7" r="2.6" fill="#d985bd" stroke="#000" stroke-width="2"/>
<circle cx="357.0" cy="203.8" r="2.6" fill="#d985bd" stroke="#000" stroke-width="2"/>
<circle cx="374.7" cy="214.4" r="2.6" fill="#d985bd" stroke="#000" stroke-width="2"/>
<circle cx="392.5" cy="225.0" r="2.6" fill="#d985bd" stroke="#000" stroke-width="2"/>
<circle cx="410.2" cy="226.3" r="2.6" fill="#d985bd" stroke="#000" stroke-width="2"/>
<circle cx="427.9" cy="225.0" r="2.6" fill="#d985bd" stroke="#000" stroke-width="2"/>
<circle cx="445.6" cy="224.6" r="2.6" fill="#d985bd" stroke="#000" stroke-width="2"/>
<circle cx="463.3" cy="223.8" r="2.6" fill="#d985bd" stroke="#000" stroke-width="2"/>
<circle cx="481.0" cy="225.7" r="2.6" fill="#d985bd" stroke="#000" stroke-width="2"/>
<circle cx="498.7" cy="227.1" r="2.6" fill="#d985bd" stroke="#000" stroke-width="2"/>
<path d="M52.7 0.0V317.1H520" fill="none" stroke="#000" stroke-width="2.7" stroke-linejoin="round"/>
<line x1="47.2" y1="303.0" x2="52.7" y2="303.0" stroke="#222" stroke-width="2"/>
<text x="43.4" y="308.8" text-anchor="end" class="tk">0</text>
<line x1="47.2" y1="206.7" x2="52.7" y2="206.7" stroke="#222" stroke-width="2"/>
<text x="43.4" y="212.5" text-anchor="end" class="tk">5</text>
<line x1="47.2" y1="110.3" x2="52.7" y2="110.3" stroke="#222" stroke-width="2"/>
<text x="43.4" y="116.1" text-anchor="end" class="tk">10</text>
<line x1="47.2" y1="13.9" x2="52.7" y2="13.9" stroke="#222" stroke-width="2"/>
<text x="43.4" y="19.7" text-anchor="end" class="tk">15</text>
<line x1="73.7" y1="317.1" x2="73.7" y2="322.6" stroke="#222" stroke-width="2.1"/>
<text x="73.7" y="338.2" text-anchor="middle" class="tk">−30</text>
<line x1="179.9" y1="317.1" x2="179.9" y2="322.6" stroke="#222" stroke-width="2.1"/>
<text x="179.9" y="338.2" text-anchor="middle" class="tk">0</text>
<line x1="286.2" y1="317.1" x2="286.2" y2="322.6" stroke="#222" stroke-width="2.1"/>
<text x="286.2" y="338.2" text-anchor="middle" class="tk">30</text>
<line x1="392.5" y1="317.1" x2="392.5" y2="322.6" stroke="#222" stroke-width="2.1"/>
<text x="392.5" y="338.2" text-anchor="middle" class="tk">60</text>
<line x1="498.7" y1="317.1" x2="498.7" y2="322.6" stroke="#222" stroke-width="2.1"/>
<text x="498.7" y="338.2" text-anchor="middle" class="tk">90</text>
<text transform="translate(15 158.5) rotate(-90)" text-anchor="middle" class="lab">Plasma glucose (mmol/L)</text>
<path d="M66.75 125.90H80.55L73.65 137.80Z" fill="none" stroke="#000" stroke-width="1.8" stroke-linejoin="round"/>
<path d="M392.4 241.7L397.6 258.2H387.2Z" fill="#000"/>
<rect x="391.15" y="257.2" width="2.5" height="9.0" fill="#000"/>
<text x="0.3" y="19.8" class="pl">A</text>
<rect x="179.2" y="363.0" width="213.7" height="317.0" fill="#e8e8e8"/>
<line x1="52.7" y1="591.4" x2="520" y2="591.4" stroke="#7c7c7c" stroke-width="2.6" stroke-dasharray="15.5 6.7"/>
<polyline points="73.7,524.8 91.4,523.7 109.1,517.1 126.8,516.1 144.5,514.4 162.2,513.8 179.9,513.8 197.7,511.9 215.4,513.1 233.1,514.4 250.8,518.8 268.5,520.6 286.2,521.3 303.9,523.8 321.6,525.0 339.3,527.5 357.0,528.7 374.7,530.0 392.5,531.4 410.2,527.5 427.9,524.4 445.6,520.6 463.3,518.1 481.0,515.0 498.7,511.3" fill="none" stroke="#000" stroke-width="2.9" stroke-dasharray="9 8.8" stroke-dashoffset="0"/>
<polyline points="73.7,520.2 91.4,518.8 109.1,519.8 126.8,521.3 144.5,518.3 162.2,519.2 179.9,518.3 197.7,517.3 215.4,521.1 233.1,521.3 250.8,522.5 268.5,528.7 286.2,535.0 303.9,535.6 321.6,535.0 339.3,533.7 357.0,531.4 374.7,530.0 392.5,531.4 410.2,528.1 427.9,526.3 445.6,529.4 463.3,529.4 481.0,533.1 498.7,535.6" fill="none" stroke="#000" stroke-width="2.9" stroke-dasharray="9 8.8" stroke-dashoffset="0"/>
<polyline points="73.7,527.5 91.4,527.5 109.1,527.5 126.8,526.5 144.5,526.9 162.2,526.9 179.9,525.0 197.7,521.1 215.4,531.7 233.1,536.2" fill="none" stroke="#000" stroke-width="2.9" stroke-dasharray="9 8.8" stroke-dashoffset="0"/>
<polyline points="233.1,536.2 250.8,536.2 268.5,531.4 286.2,535.0 303.9,535.6 321.6,535.0 339.3,533.7 357.0,531.4 374.7,530.0 392.5,531.4 410.2,528.1 427.9,526.3 445.6,529.4 463.3,529.4 481.0,533.1 498.7,535.0" fill="none" stroke="#000" stroke-width="2.9" stroke-dasharray="9 8.8" stroke-dashoffset="-4.6"/>
<polyline points="73.7,534.4 91.4,534.4 109.1,536.2 126.8,535.2 144.5,534.6 162.2,533.7 179.9,534.6 197.7,537.5 215.4,538.5 233.1,540.0 250.8,541.0 268.5,533.7 286.2,540.0 303.9,542.9 321.6,546.2 339.3,547.5 357.0,551.2 374.7,546.2 392.5,543.7 410.2,542.5 427.9,538.7 445.6,540.0 463.3,541.2 481.0,538.7 498.7,535.0" fill="none" stroke="#000" stroke-width="2.9" stroke-dasharray="9 8.8" stroke-dashoffset="0"/>
<polyline points="73.7,536.9 91.4,537.1 109.1,536.2 126.8,537.1 144.5,538.7 162.2,539.1 179.9,539.1 197.7,537.5 215.4,538.5 233.1,540.0 250.8,542.9 268.5,546.2 286.2,548.7 303.9,550.6 321.6,553.7 339.3,552.6 357.0,552.6 374.7,552.6 392.5,552.6 410.2,552.6 427.9,552.6 445.6,552.9 463.3,552.0 481.0,548.7 498.7,546.2" fill="none" stroke="#000" stroke-width="2.9" stroke-dasharray="9 8.8" stroke-dashoffset="0"/>
<polyline points="73.7,531.0 91.4,531.0 109.1,531.0 126.8,531.0 144.5,529.8 162.2,529.8 179.9,530.4 197.7,531.7 215.4,534.6 233.1,540.0 250.8,542.9 268.5,546.2 286.2,550.1 303.9,550.6 321.6,560.1 339.3,558.7 357.0,560.1 374.7,560.8 392.5,565.1 410.2,563.0 427.9,557.0 445.6,557.0 463.3,557.0 481.0,551.2 498.7,550.1" fill="none" stroke="#000" stroke-width="2.9" stroke-dasharray="9 8.8" stroke-dashoffset="0"/>
<polyline points="73.7,541.4 91.4,541.4 109.1,542.2 126.8,544.8 144.5,543.9 162.2,541.4 179.9,541.4 197.7,541.4 215.4,542.9 233.1,544.8 250.8,545.8 268.5,546.2" fill="none" stroke="#000" stroke-width="2.9" stroke-dasharray="9 8.8" stroke-dashoffset="0"/>
<polyline points="268.5,546.2 286.2,550.1 303.9,550.6 321.6,560.1 339.3,558.7 357.0,560.1 374.7,560.8 392.5,565.1 410.2,563.0 427.9,557.0 445.6,557.0 463.3,557.0 481.0,551.2 498.7,550.1" fill="none" stroke="#000" stroke-width="2.9" stroke-dasharray="9 8.8" stroke-dashoffset="-4.6"/>
<polyline points="73.7,550.8 91.4,556.0 109.1,557.0 126.8,559.5 144.5,561.2 162.2,557.8 179.9,560.7 197.7,556.8 215.4,557.8 233.1,560.3 250.8,562.2 268.5,564.1 286.2,566.0 303.9,568.0 321.6,569.9 339.3,570.9 357.0,571.8 374.7,573.8 392.5,572.4 410.2,571.2 427.9,572.4 445.6,572.2 463.3,571.8 481.0,572.4 498.7,575.1" fill="none" stroke="#000" stroke-width="2.9" stroke-dasharray="9 8.8" stroke-dashoffset="0"/>
<polyline points="73.7,568.2 91.4,566.4 109.1,571.6 126.8,573.4 144.5,573.9 162.2,572.8 179.9,571.2 197.7,570.3 215.4,569.3 233.1,572.6 250.8,576.3 268.5,575.7 286.2,573.8 303.9,573.0 321.6,573.8 339.3,574.7 357.0,575.7 374.7,576.6 392.5,577.6 410.2,577.0 427.9,578.6 445.6,578.6 463.3,579.1 481.0,578.6 498.7,580.5" fill="none" stroke="#000" stroke-width="2.9" stroke-dasharray="9 8.8" stroke-dashoffset="0"/>
<polyline points="73.7,564.7 91.4,566.4 109.1,566.0 126.8,566.0 144.5,565.5 162.2,565.5 179.9,566.2 197.7,564.1 215.4,564.1 233.1,562.6 250.8,564.3 268.5,567.6 286.2,569.5 303.9,573.0 321.6,574.5 339.3,576.3 357.0,578.8 374.7,580.5 392.5,583.8 410.2,584.4 427.9,584.2 445.6,584.0 463.3,584.0 481.0,583.8 498.7,581.5" fill="none" stroke="#000" stroke-width="2.9" stroke-dasharray="9 8.8" stroke-dashoffset="0"/>
<polyline points="73.7,572.4 91.4,572.4 109.1,571.6 126.8,563.7 144.5,564.7 162.2,561.4 179.9,560.7 197.7,561.6 215.4,578.0 233.1,584.5 250.8,593.8" fill="none" stroke="#000" stroke-width="2.9" stroke-dasharray="9 8.8" stroke-dashoffset="0"/>
<polyline points="73.7,560.5 91.4,561.2 109.1,561.2 126.8,562.2 144.5,564.1 162.2,565.5 179.9,566.2 197.7,570.3 215.4,573.9 233.1,580.9 250.8,588.8" fill="none" stroke="#000" stroke-width="2.9" stroke-dasharray="9 8.8" stroke-dashoffset="0"/>
<polyline points="73.7,557.0 91.4,556.0 109.1,557.0 126.8,559.5 144.5,561.2 162.2,561.4 179.9,560.7 197.7,564.1 215.4,565.5 233.1,577.6 250.8,583.8 268.5,589.9" fill="none" stroke="#000" stroke-width="2.9" stroke-dasharray="9 8.8" stroke-dashoffset="0"/>
<polyline points="73.7,536.9 91.4,534.4 109.1,536.2 126.8,535.2 144.5,538.7 162.2,541.4 179.9,541.4 197.7,541.4 215.4,552.0 233.1,572.6 250.8,576.3 268.5,584.5" fill="none" stroke="#000" stroke-width="2.9" stroke-dasharray="9 8.8" stroke-dashoffset="0"/>
<polyline points="73.7,541.4 91.4,541.4 109.1,542.2 126.8,544.8 144.5,543.9 162.2,541.4 179.9,545.8 197.7,546.2 215.4,557.8 233.1,562.6 250.8,570.5 268.5,581.3 286.2,592.4" fill="none" stroke="#000" stroke-width="2.9" stroke-dasharray="9 8.8" stroke-dashoffset="0"/>
<polyline points="73.7,576.3 91.4,580.3 109.1,585.5 126.8,584.9 144.5,585.3 162.2,581.5 179.9,573.9 197.7,575.1 215.4,582.6 233.1,579.9 250.8,579.5 268.5,584.5 286.2,579.9 303.9,583.8 321.6,587.4 339.3,594.6" fill="none" stroke="#000" stroke-width="2.9" stroke-dasharray="9 8.8" stroke-dashoffset="0"/>
<circle cx="73.7" cy="524.8" r="2.6" fill="#6c98d6" stroke="#000" stroke-width="2"/>
<circle cx="91.4" cy="523.7" r="2.6" fill="#6c98d6" stroke="#000" stroke-width="2"/>
<circle cx="109.1" cy="517.1" r="2.6" fill="#6c98d6" stroke="#000" stroke-width="2"/>
<circle cx="126.8" cy="516.1" r="2.6" fill="#6c98d6" stroke="#000" stroke-width="2"/>
<circle cx="144.5" cy="514.4" r="2.6" fill="#6c98d6" stroke="#000" stroke-width="2"/>
<circle cx="162.2" cy="513.8" r="2.6" fill="#6c98d6" stroke="#000" stroke-width="2"/>
<circle cx="179.9" cy="513.8" r="2.6" fill="#6c98d6" stroke="#000" stroke-width="2"/>
<circle cx="197.7" cy="511.9" r="2.6" fill="#6c98d6" stroke="#000" stroke-width="2"/>
<circle cx="215.4" cy="513.1" r="2.6" fill="#6c98d6" stroke="#000" stroke-width="2"/>
<circle cx="233.1" cy="514.4" r="2.6" fill="#6c98d6" stroke="#000" stroke-width="2"/>
<circle cx="250.8" cy="518.8" r="2.6" fill="#6c98d6" stroke="#000" stroke-width="2"/>
<circle cx="268.5" cy="520.6" r="2.6" fill="#6c98d6" stroke="#000" stroke-width="2"/>
<circle cx="286.2" cy="521.3" r="2.6" fill="#6c98d6" stroke="#000" stroke-width="2"/>
<circle cx="303.9" cy="523.8" r="2.6" fill="#6c98d6" stroke="#000" stroke-width="2"/>
<circle cx="321.6" cy="525.0" r="2.6" fill="#6c98d6" stroke="#000" stroke-width="2"/>
<circle cx="339.3" cy="527.5" r="2.6" fill="#6c98d6" stroke="#000" stroke-width="2"/>
<circle cx="357.0" cy="528.7" r="2.6" fill="#6c98d6" stroke="#000" stroke-width="2"/>
<circle cx="374.7" cy="530.0" r="2.6" fill="#6c98d6" stroke="#000" stroke-width="2"/>
<circle cx="392.5" cy="531.4" r="2.6" fill="#6c98d6" stroke="#000" stroke-width="2"/>
<circle cx="410.2" cy="527.5" r="2.6" fill="#6c98d6" stroke="#000" stroke-width="2"/>
<circle cx="427.9" cy="524.4" r="2.6" fill="#6c98d6" stroke="#000" stroke-width="2"/>
<circle cx="445.6" cy="520.6" r="2.6" fill="#6c98d6" stroke="#000" stroke-width="2"/>
<circle cx="463.3" cy="518.1" r="2.6" fill="#6c98d6" stroke="#000" stroke-width="2"/>
<circle cx="481.0" cy="515.0" r="2.6" fill="#6c98d6" stroke="#000" stroke-width="2"/>
<circle cx="498.7" cy="511.3" r="2.6" fill="#6c98d6" stroke="#000" stroke-width="2"/>
<circle cx="73.7" cy="520.2" r="2.6" fill="#d985bd" stroke="#000" stroke-width="2"/>
<circle cx="91.4" cy="518.8" r="2.6" fill="#d985bd" stroke="#000" stroke-width="2"/>
<circle cx="109.1" cy="519.8" r="2.6" fill="#d985bd" stroke="#000" stroke-width="2"/>
<circle cx="126.8" cy="521.3" r="2.6" fill="#d985bd" stroke="#000" stroke-width="2"/>
<circle cx="144.5" cy="518.3" r="2.6" fill="#d985bd" stroke="#000" stroke-width="2"/>
<circle cx="162.2" cy="519.2" r="2.6" fill="#d985bd" stroke="#000" stroke-width="2"/>
<circle cx="179.9" cy="518.3" r="2.6" fill="#d985bd" stroke="#000" stroke-width="2"/>
<circle cx="197.7" cy="517.3" r="2.6" fill="#d985bd" stroke="#000" stroke-width="2"/>
<circle cx="215.4" cy="521.1" r="2.6" fill="#d985bd" stroke="#000" stroke-width="2"/>
<circle cx="233.1" cy="521.3" r="2.6" fill="#d985bd" stroke="#000" stroke-width="2"/>
<circle cx="250.8" cy="522.5" r="2.6" fill="#d985bd" stroke="#000" stroke-width="2"/>
<circle cx="268.5" cy="528.7" r="2.6" fill="#d985bd" stroke="#000" stroke-width="2"/>
<circle cx="286.2" cy="535.0" r="2.6" fill="#d985bd" stroke="#000" stroke-width="2"/>
<circle cx="303.9" cy="535.6" r="2.6" fill="#d985bd" stroke="#000" stroke-width="2"/>
<circle cx="321.6" cy="535.0" r="2.6" fill="#d985bd" stroke="#000" stroke-width="2"/>
<circle cx="339.3" cy="533.7" r="2.6" fill="#d985bd" stroke="#000" stroke-width="2"/>
<circle cx="357.0" cy="531.4" r="2.6" fill="#d985bd" stroke="#000" stroke-width="2"/>
<circle cx="374.7" cy="530.0" r="2.6" fill="#d985bd" stroke="#000" stroke-width="2"/>
<circle cx="392.5" cy="531.4" r="2.6" fill="#d985bd" stroke="#000" stroke-width="2"/>
<circle cx="410.2" cy="528.1" r="2.6" fill="#d985bd" stroke="#000" stroke-width="2"/>
<circle cx="427.9" cy="526.3" r="2.6" fill="#d985bd" stroke="#000" stroke-width="2"/>
<circle cx="445.6" cy="529.4" r="2.6" fill="#d985bd" stroke="#000" stroke-width="2"/>
<circle cx="463.3" cy="529.4" r="2.6" fill="#d985bd" stroke="#000" stroke-width="2"/>
<circle cx="481.0" cy="533.1" r="2.6" fill="#d985bd" stroke="#000" stroke-width="2"/>
<circle cx="498.7" cy="535.6" r="2.6" fill="#d985bd" stroke="#000" stroke-width="2"/>
<circle cx="73.7" cy="527.5" r="2.6" fill="#b48cd6" stroke="#000" stroke-width="2"/>
<circle cx="91.4" cy="527.5" r="2.6" fill="#b48cd6" stroke="#000" stroke-width="2"/>
<circle cx="109.1" cy="527.5" r="2.6" fill="#b48cd6" stroke="#000" stroke-width="2"/>
<circle cx="126.8" cy="526.5" r="2.6" fill="#b48cd6" stroke="#000" stroke-width="2"/>
<circle cx="144.5" cy="526.9" r="2.6" fill="#b48cd6" stroke="#000" stroke-width="2"/>
<circle cx="162.2" cy="526.9" r="2.6" fill="#b48cd6" stroke="#000" stroke-width="2"/>
<circle cx="179.9" cy="525.0" r="2.6" fill="#b48cd6" stroke="#000" stroke-width="2"/>
<circle cx="197.7" cy="521.1" r="2.6" fill="#b48cd6" stroke="#000" stroke-width="2"/>
<circle cx="215.4" cy="531.7" r="2.6" fill="#b48cd6" stroke="#000" stroke-width="2"/>
<circle cx="233.1" cy="536.2" r="2.6" fill="#b48cd6" stroke="#000" stroke-width="2"/>
<circle cx="250.8" cy="536.2" r="2.6" fill="#b48cd6" stroke="#000" stroke-width="2"/>
<circle cx="268.5" cy="531.4" r="2.6" fill="#b48cd6" stroke="#000" stroke-width="2"/>
<circle cx="286.2" cy="535.0" r="2.6" fill="#b48cd6" stroke="#000" stroke-width="2"/>
<circle cx="303.9" cy="535.6" r="2.6" fill="#b48cd6" stroke="#000" stroke-width="2"/>
<circle cx="321.6" cy="535.0" r="2.6" fill="#b48cd6" stroke="#000" stroke-width="2"/>
<circle cx="339.3" cy="533.7" r="2.6" fill="#b48cd6" stroke="#000" stroke-width="2"/>
<circle cx="357.0" cy="531.4" r="2.6" fill="#b48cd6" stroke="#000" stroke-width="2"/>
<circle cx="374.7" cy="530.0" r="2.6" fill="#b48cd6" stroke="#000" stroke-width="2"/>
<circle cx="392.5" cy="531.4" r="2.6" fill="#b48cd6" stroke="#000" stroke-width="2"/>
<circle cx="410.2" cy="528.1" r="2.6" fill="#b48cd6" stroke="#000" stroke-width="2"/>
<circle cx="427.9" cy="526.3" r="2.6" fill="#b48cd6" stroke="#000" stroke-width="2"/>
<circle cx="445.6" cy="529.4" r="2.6" fill="#b48cd6" stroke="#000" stroke-width="2"/>
<circle cx="463.3" cy="529.4" r="2.6" fill="#b48cd6" stroke="#000" stroke-width="2"/>
<circle cx="481.0" cy="533.1" r="2.6" fill="#b48cd6" stroke="#000" stroke-width="2"/>
<circle cx="498.7" cy="535.0" r="2.6" fill="#b48cd6" stroke="#000" stroke-width="2"/>
<circle cx="73.7" cy="534.4" r="2.6" fill="#d2975a" stroke="#000" stroke-width="2"/>
<circle cx="91.4" cy="534.4" r="2.6" fill="#d2975a" stroke="#000" stroke-width="2"/>
<circle cx="109.1" cy="536.2" r="2.6" fill="#d2975a" stroke="#000" stroke-width="2"/>
<circle cx="126.8" cy="535.2" r="2.6" fill="#d2975a" stroke="#000" stroke-width="2"/>
<circle cx="144.5" cy="534.6" r="2.6" fill="#d2975a" stroke="#000" stroke-width="2"/>
<circle cx="162.2" cy="533.7" r="2.6" fill="#d2975a" stroke="#000" stroke-width="2"/>
<circle cx="179.9" cy="534.6" r="2.6" fill="#d2975a" stroke="#000" stroke-width="2"/>
<circle cx="197.7" cy="537.5" r="2.6" fill="#d2975a" stroke="#000" stroke-width="2"/>
<circle cx="215.4" cy="538.5" r="2.6" fill="#d2975a" stroke="#000" stroke-width="2"/>
<circle cx="233.1" cy="540.0" r="2.6" fill="#d2975a" stroke="#000" stroke-width="2"/>
<circle cx="250.8" cy="541.0" r="2.6" fill="#d2975a" stroke="#000" stroke-width="2"/>
<circle cx="268.5" cy="533.7" r="2.6" fill="#d2975a" stroke="#000" stroke-width="2"/>
<circle cx="286.2" cy="540.0" r="2.6" fill="#d2975a" stroke="#000" stroke-width="2"/>
<circle cx="303.9" cy="542.9" r="2.6" fill="#d2975a" stroke="#000" stroke-width="2"/>
<circle cx="321.6" cy="546.2" r="2.6" fill="#d2975a" stroke="#000" stroke-width="2"/>
<circle cx="339.3" cy="547.5" r="2.6" fill="#d2975a" stroke="#000" stroke-width="2"/>
<circle cx="357.0" cy="551.2" r="2.6" fill="#d2975a" stroke="#000" stroke-width="2"/>
<circle cx="374.7" cy="546.2" r="2.6" fill="#d2975a" stroke="#000" stroke-width="2"/>
<circle cx="392.5" cy="543.7" r="2.6" fill="#d2975a" stroke="#000" stroke-width="2"/>
<circle cx="410.2" cy="542.5" r="2.6" fill="#d2975a" stroke="#000" stroke-width="2"/>
<circle cx="427.9" cy="538.7" r="2.6" fill="#d2975a" stroke="#000" stroke-width="2"/>
<circle cx="445.6" cy="540.0" r="2.6" fill="#d2975a" stroke="#000" stroke-width="2"/>
<circle cx="463.3" cy="541.2" r="2.6" fill="#d2975a" stroke="#000" stroke-width="2"/>
<circle cx="481.0" cy="538.7" r="2.6" fill="#d2975a" stroke="#000" stroke-width="2"/>
<circle cx="498.7" cy="535.0" r="2.6" fill="#d2975a" stroke="#000" stroke-width="2"/>
<circle cx="73.7" cy="536.9" r="2.6" fill="#d985bd" stroke="#000" stroke-width="2"/>
<circle cx="91.4" cy="537.1" r="2.6" fill="#d985bd" stroke="#000" stroke-width="2"/>
<circle cx="109.1" cy="536.2" r="2.6" fill="#d985bd" stroke="#000" stroke-width="2"/>
<circle cx="126.8" cy="537.1" r="2.6" fill="#d985bd" stroke="#000" stroke-width="2"/>
<circle cx="144.5" cy="538.7" r="2.6" fill="#d985bd" stroke="#000" stroke-width="2"/>
<circle cx="162.2" cy="539.1" r="2.6" fill="#d985bd" stroke="#000" stroke-width="2"/>
<circle cx="179.9" cy="539.1" r="2.6" fill="#d985bd" stroke="#000" stroke-width="2"/>
<circle cx="197.7" cy="537.5" r="2.6" fill="#d985bd" stroke="#000" stroke-width="2"/>
<circle cx="215.4" cy="538.5" r="2.6" fill="#d985bd" stroke="#000" stroke-width="2"/>
<circle cx="233.1" cy="540.0" r="2.6" fill="#d985bd" stroke="#000" stroke-width="2"/>
<circle cx="250.8" cy="542.9" r="2.6" fill="#d985bd" stroke="#000" stroke-width="2"/>
<circle cx="268.5" cy="546.2" r="2.6" fill="#d985bd" stroke="#000" stroke-width="2"/>
<circle cx="286.2" cy="548.7" r="2.6" fill="#d985bd" stroke="#000" stroke-width="2"/>
<circle cx="303.9" cy="550.6" r="2.6" fill="#d985bd" stroke="#000" stroke-width="2"/>
<circle cx="321.6" cy="553.7" r="2.6" fill="#d985bd" stroke="#000" stroke-width="2"/>
<circle cx="339.3" cy="552.6" r="2.6" fill="#d985bd" stroke="#000" stroke-width="2"/>
<circle cx="357.0" cy="552.6" r="2.6" fill="#d985bd" stroke="#000" stroke-width="2"/>
<circle cx="374.7" cy="552.6" r="2.6" fill="#d985bd" stroke="#000" stroke-width="2"/>
<circle cx="392.5" cy="552.6" r="2.6" fill="#d985bd" stroke="#000" stroke-width="2"/>
<circle cx="410.2" cy="552.6" r="2.6" fill="#d985bd" stroke="#000" stroke-width="2"/>
<circle cx="427.9" cy="552.6" r="2.6" fill="#d985bd" stroke="#000" stroke-width="2"/>
<circle cx="445.6" cy="552.9" r="2.6" fill="#d985bd" stroke="#000" stroke-width="2"/>
<circle cx="463.3" cy="552.0" r="2.6" fill="#d985bd" stroke="#000" stroke-width="2"/>
<circle cx="481.0" cy="548.7" r="2.6" fill="#d985bd" stroke="#000" stroke-width="2"/>
<circle cx="498.7" cy="546.2" r="2.6" fill="#d985bd" stroke="#000" stroke-width="2"/>
<circle cx="73.7" cy="531.0" r="2.6" fill="#b48cd6" stroke="#000" stroke-width="2"/>
<circle cx="91.4" cy="531.0" r="2.6" fill="#b48cd6" stroke="#000" stroke-width="2"/>
<circle cx="109.1" cy="531.0" r="2.6" fill="#b48cd6" stroke="#000" stroke-width="2"/>
<circle cx="126.8" cy="531.0" r="2.6" fill="#b48cd6" stroke="#000" stroke-width="2"/>
<circle cx="144.5" cy="529.8" r="2.6" fill="#b48cd6" stroke="#000" stroke-width="2"/>
<circle cx="162.2" cy="529.8" r="2.6" fill="#b48cd6" stroke="#000" stroke-width="2"/>
<circle cx="179.9" cy="530.4" r="2.6" fill="#b48cd6" stroke="#000" stroke-width="2"/>
<circle cx="197.7" cy="531.7" r="2.6" fill="#b48cd6" stroke="#000" stroke-width="2"/>
<circle cx="215.4" cy="534.6" r="2.6" fill="#b48cd6" stroke="#000" stroke-width="2"/>
<circle cx="233.1" cy="540.0" r="2.6" fill="#b48cd6" stroke="#000" stroke-width="2"/>
<circle cx="250.8" cy="542.9" r="2.6" fill="#b48cd6" stroke="#000" stroke-width="2"/>
<circle cx="268.5" cy="546.2" r="2.6" fill="#b48cd6" stroke="#000" stroke-width="2"/>
<circle cx="286.2" cy="550.1" r="2.6" fill="#b48cd6" stroke="#000" stroke-width="2"/>
<circle cx="303.9" cy="550.6" r="2.6" fill="#b48cd6" stroke="#000" stroke-width="2"/>
<circle cx="321.6" cy="560.1" r="2.6" fill="#b48cd6" stroke="#000" stroke-width="2"/>
<circle cx="339.3" cy="558.7" r="2.6" fill="#b48cd6" stroke="#000" stroke-width="2"/>
<circle cx="357.0" cy="560.1" r="2.6" fill="#b48cd6" stroke="#000" stroke-width="2"/>
<circle cx="374.7" cy="560.8" r="2.6" fill="#b48cd6" stroke="#000" stroke-width="2"/>
<circle cx="392.5" cy="565.1" r="2.6" fill="#b48cd6" stroke="#000" stroke-width="2"/>
<circle cx="410.2" cy="563.0" r="2.6" fill="#b48cd6" stroke="#000" stroke-width="2"/>
<circle cx="427.9" cy="557.0" r="2.6" fill="#b48cd6" stroke="#000" stroke-width="2"/>
<circle cx="445.6" cy="557.0" r="2.6" fill="#b48cd6" stroke="#000" stroke-width="2"/>
<circle cx="463.3" cy="557.0" r="2.6" fill="#b48cd6" stroke="#000" stroke-width="2"/>
<circle cx="481.0" cy="551.2" r="2.6" fill="#b48cd6" stroke="#000" stroke-width="2"/>
<circle cx="498.7" cy="550.1" r="2.6" fill="#b48cd6" stroke="#000" stroke-width="2"/>
<circle cx="73.7" cy="541.4" r="2.6" fill="#55a362" stroke="#000" stroke-width="2"/>
<circle cx="91.4" cy="541.4" r="2.6" fill="#55a362" stroke="#000" stroke-width="2"/>
<circle cx="109.1" cy="542.2" r="2.6" fill="#55a362" stroke="#000" stroke-width="2"/>
<circle cx="126.8" cy="544.8" r="2.6" fill="#55a362" stroke="#000" stroke-width="2"/>
<circle cx="144.5" cy="543.9" r="2.6" fill="#55a362" stroke="#000" stroke-width="2"/>
<circle cx="162.2" cy="541.4" r="2.6" fill="#55a362" stroke="#000" stroke-width="2"/>
<circle cx="179.9" cy="541.4" r="2.6" fill="#55a362" stroke="#000" stroke-width="2"/>
<circle cx="197.7" cy="541.4" r="2.6" fill="#55a362" stroke="#000" stroke-width="2"/>
<circle cx="215.4" cy="542.9" r="2.6" fill="#55a362" stroke="#000" stroke-width="2"/>
<circle cx="233.1" cy="544.8" r="2.6" fill="#55a362" stroke="#000" stroke-width="2"/>
<circle cx="250.8" cy="545.8" r="2.6" fill="#55a362" stroke="#000" stroke-width="2"/>
<circle cx="268.5" cy="546.2" r="2.6" fill="#55a362" stroke="#000" stroke-width="2"/>
<circle cx="286.2" cy="550.1" r="2.6" fill="#55a362" stroke="#000" stroke-width="2"/>
<circle cx="303.9" cy="550.6" r="2.6" fill="#55a362" stroke="#000" stroke-width="2"/>
<circle cx="321.6" cy="560.1" r="2.6" fill="#55a362" stroke="#000" stroke-width="2"/>
<circle cx="339.3" cy="558.7" r="2.6" fill="#55a362" stroke="#000" stroke-width="2"/>
<circle cx="357.0" cy="560.1" r="2.6" fill="#55a362" stroke="#000" stroke-width="2"/>
<circle cx="374.7" cy="560.8" r="2.6" fill="#55a362" stroke="#000" stroke-width="2"/>
<circle cx="392.5" cy="565.1" r="2.6" fill="#55a362" stroke="#000" stroke-width="2"/>
<circle cx="410.2" cy="563.0" r="2.6" fill="#55a362" stroke="#000" stroke-width="2"/>
<circle cx="427.9" cy="557.0" r="2.6" fill="#55a362" stroke="#000" stroke-width="2"/>
<circle cx="445.6" cy="557.0" r="2.6" fill="#55a362" stroke="#000" stroke-width="2"/>
<circle cx="463.3" cy="557.0" r="2.6" fill="#55a362" stroke="#000" stroke-width="2"/>
<circle cx="481.0" cy="551.2" r="2.6" fill="#55a362" stroke="#000" stroke-width="2"/>
<circle cx="498.7" cy="550.1" r="2.6" fill="#55a362" stroke="#000" stroke-width="2"/>
<circle cx="73.7" cy="550.8" r="2.6" fill="#48a3b0" stroke="#000" stroke-width="2"/>
<circle cx="91.4" cy="556.0" r="2.6" fill="#48a3b0" stroke="#000" stroke-width="2"/>
<circle cx="109.1" cy="557.0" r="2.6" fill="#48a3b0" stroke="#000" stroke-width="2"/>
<circle cx="126.8" cy="559.5" r="2.6" fill="#48a3b0" stroke="#000" stroke-width="2"/>
<circle cx="144.5" cy="561.2" r="2.6" fill="#48a3b0" stroke="#000" stroke-width="2"/>
<circle cx="162.2" cy="557.8" r="2.6" fill="#48a3b0" stroke="#000" stroke-width="2"/>
<circle cx="179.9" cy="560.7" r="2.6" fill="#48a3b0" stroke="#000" stroke-width="2"/>
<circle cx="197.7" cy="556.8" r="2.6" fill="#48a3b0" stroke="#000" stroke-width="2"/>
<circle cx="215.4" cy="557.8" r="2.6" fill="#48a3b0" stroke="#000" stroke-width="2"/>
<circle cx="233.1" cy="560.3" r="2.6" fill="#48a3b0" stroke="#000" stroke-width="2"/>
<circle cx="250.8" cy="562.2" r="2.6" fill="#48a3b0" stroke="#000" stroke-width="2"/>
<circle cx="268.5" cy="564.1" r="2.6" fill="#48a3b0" stroke="#000" stroke-width="2"/>
<circle cx="286.2" cy="566.0" r="2.6" fill="#48a3b0" stroke="#000" stroke-width="2"/>
<circle cx="303.9" cy="568.0" r="2.6" fill="#48a3b0" stroke="#000" stroke-width="2"/>
<circle cx="321.6" cy="569.9" r="2.6" fill="#48a3b0" stroke="#000" stroke-width="2"/>
<circle cx="339.3" cy="570.9" r="2.6" fill="#48a3b0" stroke="#000" stroke-width="2"/>
<circle cx="357.0" cy="571.8" r="2.6" fill="#48a3b0" stroke="#000" stroke-width="2"/>
<circle cx="374.7" cy="573.8" r="2.6" fill="#48a3b0" stroke="#000" stroke-width="2"/>
<circle cx="392.5" cy="572.4" r="2.6" fill="#48a3b0" stroke="#000" stroke-width="2"/>
<circle cx="410.2" cy="571.2" r="2.6" fill="#48a3b0" stroke="#000" stroke-width="2"/>
<circle cx="427.9" cy="572.4" r="2.6" fill="#48a3b0" stroke="#000" stroke-width="2"/>
<circle cx="445.6" cy="572.2" r="2.6" fill="#48a3b0" stroke="#000" stroke-width="2"/>
<circle cx="463.3" cy="571.8" r="2.6" fill="#48a3b0" stroke="#000" stroke-width="2"/>
<circle cx="481.0" cy="572.4" r="2.6" fill="#48a3b0" stroke="#000" stroke-width="2"/>
<circle cx="498.7" cy="575.1" r="2.6" fill="#48a3b0" stroke="#000" stroke-width="2"/>
<circle cx="73.7" cy="568.2" r="2.6" fill="#6c98d6" stroke="#000" stroke-width="2"/>
<circle cx="91.4" cy="566.4" r="2.6" fill="#6c98d6" stroke="#000" stroke-width="2"/>
<circle cx="109.1" cy="571.6" r="2.6" fill="#6c98d6" stroke="#000" stroke-width="2"/>
<circle cx="126.8" cy="573.4" r="2.6" fill="#6c98d6" stroke="#000" stroke-width="2"/>
<circle cx="144.5" cy="573.9" r="2.6" fill="#6c98d6" stroke="#000" stroke-width="2"/>
<circle cx="162.2" cy="572.8" r="2.6" fill="#6c98d6" stroke="#000" stroke-width="2"/>
<circle cx="179.9" cy="571.2" r="2.6" fill="#6c98d6" stroke="#000" stroke-width="2"/>
<circle cx="197.7" cy="570.3" r="2.6" fill="#6c98d6" stroke="#000" stroke-width="2"/>
<circle cx="215.4" cy="569.3" r="2.6" fill="#6c98d6" stroke="#000" stroke-width="2"/>
<circle cx="233.1" cy="572.6" r="2.6" fill="#6c98d6" stroke="#000" stroke-width="2"/>
<circle cx="250.8" cy="576.3" r="2.6" fill="#6c98d6" stroke="#000" stroke-width="2"/>
<circle cx="268.5" cy="575.7" r="2.6" fill="#6c98d6" stroke="#000" stroke-width="2"/>
<circle cx="286.2" cy="573.8" r="2.6" fill="#6c98d6" stroke="#000" stroke-width="2"/>
<circle cx="303.9" cy="573.0" r="2.6" fill="#6c98d6" stroke="#000" stroke-width="2"/>
<circle cx="321.6" cy="573.8" r="2.6" fill="#6c98d6" stroke="#000" stroke-width="2"/>
<circle cx="339.3" cy="574.7" r="2.6" fill="#6c98d6" stroke="#000" stroke-width="2"/>
<circle cx="357.0" cy="575.7" r="2.6" fill="#6c98d6" stroke="#000" stroke-width="2"/>
<circle cx="374.7" cy="576.6" r="2.6" fill="#6c98d6" stroke="#000" stroke-width="2"/>
<circle cx="392.5" cy="577.6" r="2.6" fill="#6c98d6" stroke="#000" stroke-width="2"/>
<circle cx="410.2" cy="577.0" r="2.6" fill="#6c98d6" stroke="#000" stroke-width="2"/>
<circle cx="427.9" cy="578.6" r="2.6" fill="#6c98d6" stroke="#000" stroke-width="2"/>
<circle cx="445.6" cy="578.6" r="2.6" fill="#6c98d6" stroke="#000" stroke-width="2"/>
<circle cx="463.3" cy="579.1" r="2.6" fill="#6c98d6" stroke="#000" stroke-width="2"/>
<circle cx="481.0" cy="578.6" r="2.6" fill="#6c98d6" stroke="#000" stroke-width="2"/>
<circle cx="498.7" cy="580.5" r="2.6" fill="#6c98d6" stroke="#000" stroke-width="2"/>
<circle cx="73.7" cy="564.7" r="2.6" fill="#a3a455" stroke="#000" stroke-width="2"/>
<circle cx="91.4" cy="566.4" r="2.6" fill="#a3a455" stroke="#000" stroke-width="2"/>
<circle cx="109.1" cy="566.0" r="2.6" fill="#a3a455" stroke="#000" stroke-width="2"/>
<circle cx="126.8" cy="566.0" r="2.6" fill="#a3a455" stroke="#000" stroke-width="2"/>
<circle cx="144.5" cy="565.5" r="2.6" fill="#a3a455" stroke="#000" stroke-width="2"/>
<circle cx="162.2" cy="565.5" r="2.6" fill="#a3a455" stroke="#000" stroke-width="2"/>
<circle cx="179.9" cy="566.2" r="2.6" fill="#a3a455" stroke="#000" stroke-width="2"/>
<circle cx="197.7" cy="564.1" r="2.6" fill="#a3a455" stroke="#000" stroke-width="2"/>
<circle cx="215.4" cy="564.1" r="2.6" fill="#a3a455" stroke="#000" stroke-width="2"/>
<circle cx="233.1" cy="562.6" r="2.6" fill="#a3a455" stroke="#000" stroke-width="2"/>
<circle cx="250.8" cy="564.3" r="2.6" fill="#a3a455" stroke="#000" stroke-width="2"/>
<circle cx="268.5" cy="567.6" r="2.6" fill="#a3a455" stroke="#000" stroke-width="2"/>
<circle cx="286.2" cy="569.5" r="2.6" fill="#a3a455" stroke="#000" stroke-width="2"/>
<circle cx="303.9" cy="573.0" r="2.6" fill="#a3a455" stroke="#000" stroke-width="2"/>
<circle cx="321.6" cy="574.5" r="2.6" fill="#a3a455" stroke="#000" stroke-width="2"/>
<circle cx="339.3" cy="576.3" r="2.6" fill="#a3a455" stroke="#000" stroke-width="2"/>
<circle cx="357.0" cy="578.8" r="2.6" fill="#a3a455" stroke="#000" stroke-width="2"/>
<circle cx="374.7" cy="580.5" r="2.6" fill="#a3a455" stroke="#000" stroke-width="2"/>
<circle cx="392.5" cy="583.8" r="2.6" fill="#a3a455" stroke="#000" stroke-width="2"/>
<circle cx="410.2" cy="584.4" r="2.6" fill="#a3a455" stroke="#000" stroke-width="2"/>
<circle cx="427.9" cy="584.2" r="2.6" fill="#a3a455" stroke="#000" stroke-width="2"/>
<circle cx="445.6" cy="584.0" r="2.6" fill="#a3a455" stroke="#000" stroke-width="2"/>
<circle cx="463.3" cy="584.0" r="2.6" fill="#a3a455" stroke="#000" stroke-width="2"/>
<circle cx="481.0" cy="583.8" r="2.6" fill="#a3a455" stroke="#000" stroke-width="2"/>
<circle cx="498.7" cy="581.5" r="2.6" fill="#a3a455" stroke="#000" stroke-width="2"/>
<circle cx="73.7" cy="572.4" r="2.6" fill="#48a3b0" stroke="#000" stroke-width="2"/>
<circle cx="91.4" cy="572.4" r="2.6" fill="#48a3b0" stroke="#000" stroke-width="2"/>
<circle cx="109.1" cy="571.6" r="2.6" fill="#48a3b0" stroke="#000" stroke-width="2"/>
<circle cx="126.8" cy="563.7" r="2.6" fill="#48a3b0" stroke="#000" stroke-width="2"/>
<circle cx="144.5" cy="564.7" r="2.6" fill="#48a3b0" stroke="#000" stroke-width="2"/>
<circle cx="162.2" cy="561.4" r="2.6" fill="#48a3b0" stroke="#000" stroke-width="2"/>
<circle cx="179.9" cy="560.7" r="2.6" fill="#48a3b0" stroke="#000" stroke-width="2"/>
<circle cx="197.7" cy="561.6" r="2.6" fill="#48a3b0" stroke="#000" stroke-width="2"/>
<circle cx="215.4" cy="578.0" r="2.6" fill="#48a3b0" stroke="#000" stroke-width="2"/>
<circle cx="233.1" cy="584.5" r="2.6" fill="#48a3b0" stroke="#000" stroke-width="2"/>
<circle cx="250.8" cy="593.8" r="2.6" fill="#48a3b0" stroke="#000" stroke-width="2"/>
<circle cx="73.7" cy="560.5" r="2.6" fill="#55a362" stroke="#000" stroke-width="2"/>
<circle cx="91.4" cy="561.2" r="2.6" fill="#55a362" stroke="#000" stroke-width="2"/>
<circle cx="109.1" cy="561.2" r="2.6" fill="#55a362" stroke="#000" stroke-width="2"/>
<circle cx="126.8" cy="562.2" r="2.6" fill="#55a362" stroke="#000" stroke-width="2"/>
<circle cx="144.5" cy="564.1" r="2.6" fill="#55a362" stroke="#000" stroke-width="2"/>
<circle cx="162.2" cy="565.5" r="2.6" fill="#55a362" stroke="#000" stroke-width="2"/>
<circle cx="179.9" cy="566.2" r="2.6" fill="#55a362" stroke="#000" stroke-width="2"/>
<circle cx="197.7" cy="570.3" r="2.6" fill="#55a362" stroke="#000" stroke-width="2"/>
<circle cx="215.4" cy="573.9" r="2.6" fill="#55a362" stroke="#000" stroke-width="2"/>
<circle cx="233.1" cy="580.9" r="2.6" fill="#55a362" stroke="#000" stroke-width="2"/>
<circle cx="250.8" cy="588.8" r="2.6" fill="#55a362" stroke="#000" stroke-width="2"/>
<circle cx="73.7" cy="557.0" r="2.6" fill="#55a362" stroke="#000" stroke-width="2"/>
<circle cx="91.4" cy="556.0" r="2.6" fill="#55a362" stroke="#000" stroke-width="2"/>
<circle cx="109.1" cy="557.0" r="2.6" fill="#55a362" stroke="#000" stroke-width="2"/>
<circle cx="126.8" cy="559.5" r="2.6" fill="#55a362" stroke="#000" stroke-width="2"/>
<circle cx="144.5" cy="561.2" r="2.6" fill="#55a362" stroke="#000" stroke-width="2"/>
<circle cx="162.2" cy="561.4" r="2.6" fill="#55a362" stroke="#000" stroke-width="2"/>
<circle cx="179.9" cy="560.7" r="2.6" fill="#55a362" stroke="#000" stroke-width="2"/>
<circle cx="197.7" cy="564.1" r="2.6" fill="#55a362" stroke="#000" stroke-width="2"/>
<circle cx="215.4" cy="565.5" r="2.6" fill="#55a362" stroke="#000" stroke-width="2"/>
<circle cx="233.1" cy="577.6" r="2.6" fill="#55a362" stroke="#000" stroke-width="2"/>
<circle cx="250.8" cy="583.8" r="2.6" fill="#55a362" stroke="#000" stroke-width="2"/>
<circle cx="268.5" cy="589.9" r="2.6" fill="#55a362" stroke="#000" stroke-width="2"/>
<circle cx="73.7" cy="536.9" r="2.6" fill="#d2975a" stroke="#000" stroke-width="2"/>
<circle cx="91.4" cy="534.4" r="2.6" fill="#d2975a" stroke="#000" stroke-width="2"/>
<circle cx="109.1" cy="536.2" r="2.6" fill="#d2975a" stroke="#000" stroke-width="2"/>
<circle cx="126.8" cy="535.2" r="2.6" fill="#d2975a" stroke="#000" stroke-width="2"/>
<circle cx="144.5" cy="538.7" r="2.6" fill="#d2975a" stroke="#000" stroke-width="2"/>
<circle cx="162.2" cy="541.4" r="2.6" fill="#d2975a" stroke="#000" stroke-width="2"/>
<circle cx="179.9" cy="541.4" r="2.6" fill="#d2975a" stroke="#000" stroke-width="2"/>
<circle cx="197.7" cy="541.4" r="2.6" fill="#d2975a" stroke="#000" stroke-width="2"/>
<circle cx="215.4" cy="552.0" r="2.6" fill="#d2975a" stroke="#000" stroke-width="2"/>
<circle cx="233.1" cy="572.6" r="2.6" fill="#d2975a" stroke="#000" stroke-width="2"/>
<circle cx="250.8" cy="576.3" r="2.6" fill="#d2975a" stroke="#000" stroke-width="2"/>
<circle cx="268.5" cy="584.5" r="2.6" fill="#d2975a" stroke="#000" stroke-width="2"/>
<circle cx="73.7" cy="541.4" r="2.6" fill="#d985bd" stroke="#000" stroke-width="2"/>
<circle cx="91.4" cy="541.4" r="2.6" fill="#d985bd" stroke="#000" stroke-width="2"/>
<circle cx="109.1" cy="542.2" r="2.6" fill="#d985bd" stroke="#000" stroke-width="2"/>
<circle cx="126.8" cy="544.8" r="2.6" fill="#d985bd" stroke="#000" stroke-width="2"/>
<circle cx="144.5" cy="543.9" r="2.6" fill="#d985bd" stroke="#000" stroke-width="2"/>
<circle cx="162.2" cy="541.4" r="2.6" fill="#d985bd" stroke="#000" stroke-width="2"/>
<circle cx="179.9" cy="545.8" r="2.6" fill="#d985bd" stroke="#000" stroke-width="2"/>
<circle cx="197.7" cy="546.2" r="2.6" fill="#d985bd" stroke="#000" stroke-width="2"/>
<circle cx="215.4" cy="557.8" r="2.6" fill="#d985bd" stroke="#000" stroke-width="2"/>
<circle cx="233.1" cy="562.6" r="2.6" fill="#d985bd" stroke="#000" stroke-width="2"/>
<circle cx="250.8" cy="570.5" r="2.6" fill="#d985bd" stroke="#000" stroke-width="2"/>
<circle cx="268.5" cy="581.3" r="2.6" fill="#d985bd" stroke="#000" stroke-width="2"/>
<circle cx="286.2" cy="592.4" r="2.6" fill="#d985bd" stroke="#000" stroke-width="2"/>
<circle cx="73.7" cy="576.3" r="2.6" fill="#d2975a" stroke="#000" stroke-width="2"/>
<circle cx="91.4" cy="580.3" r="2.6" fill="#d2975a" stroke="#000" stroke-width="2"/>
<circle cx="109.1" cy="585.5" r="2.6" fill="#d2975a" stroke="#000" stroke-width="2"/>
<circle cx="126.8" cy="584.9" r="2.6" fill="#d2975a" stroke="#000" stroke-width="2"/>
<circle cx="144.5" cy="585.3" r="2.6" fill="#d2975a" stroke="#000" stroke-width="2"/>
<circle cx="162.2" cy="581.5" r="2.6" fill="#d2975a" stroke="#000" stroke-width="2"/>
<circle cx="179.9" cy="573.9" r="2.6" fill="#d2975a" stroke="#000" stroke-width="2"/>
<circle cx="197.7" cy="575.1" r="2.6" fill="#d2975a" stroke="#000" stroke-width="2"/>
<circle cx="215.4" cy="582.6" r="2.6" fill="#d2975a" stroke="#000" stroke-width="2"/>
<circle cx="233.1" cy="579.9" r="2.6" fill="#d2975a" stroke="#000" stroke-width="2"/>
<circle cx="250.8" cy="579.5" r="2.6" fill="#d2975a" stroke="#000" stroke-width="2"/>
<circle cx="268.5" cy="584.5" r="2.6" fill="#d2975a" stroke="#000" stroke-width="2"/>
<circle cx="286.2" cy="579.9" r="2.6" fill="#d2975a" stroke="#000" stroke-width="2"/>
<circle cx="303.9" cy="583.8" r="2.6" fill="#d2975a" stroke="#000" stroke-width="2"/>
<circle cx="321.6" cy="587.4" r="2.6" fill="#d2975a" stroke="#000" stroke-width="2"/>
<circle cx="339.3" cy="594.6" r="2.6" fill="#d2975a" stroke="#000" stroke-width="2"/>
<path d="M52.7 363.0V680.0H520" fill="none" stroke="#000" stroke-width="2.7" stroke-linejoin="round"/>
<line x1="47.2" y1="665.8" x2="52.7" y2="665.8" stroke="#222" stroke-width="2"/>
<text x="43.4" y="671.6" text-anchor="end" class="tk">0</text>
<line x1="47.2" y1="569.5" x2="52.7" y2="569.5" stroke="#222" stroke-width="2"/>
<text x="43.4" y="575.3" text-anchor="end" class="tk">5</text>
<line x1="47.2" y1="473.2" x2="52.7" y2="473.2" stroke="#222" stroke-width="2"/>
<text x="43.4" y="479.0" text-anchor="end" class="tk">10</text>
<line x1="47.2" y1="376.9" x2="52.7" y2="376.9" stroke="#222" stroke-width="2"/>
<text x="43.4" y="382.7" text-anchor="end" class="tk">15</text>
<line x1="73.7" y1="680.0" x2="73.7" y2="685.5" stroke="#222" stroke-width="2.1"/>
<text x="73.7" y="701.1" text-anchor="middle" class="tk">−30</text>
<line x1="179.9" y1="680.0" x2="179.9" y2="685.5" stroke="#222" stroke-width="2.1"/>
<text x="179.9" y="701.1" text-anchor="middle" class="tk">0</text>
<line x1="286.2" y1="680.0" x2="286.2" y2="685.5" stroke="#222" stroke-width="2.1"/>
<text x="286.2" y="701.1" text-anchor="middle" class="tk">30</text>
<line x1="392.5" y1="680.0" x2="392.5" y2="685.5" stroke="#222" stroke-width="2.1"/>
<text x="392.5" y="701.1" text-anchor="middle" class="tk">60</text>
<line x1="498.7" y1="680.0" x2="498.7" y2="685.5" stroke="#222" stroke-width="2.1"/>
<text x="498.7" y="701.1" text-anchor="middle" class="tk">90</text>
<text transform="translate(15 520.7) rotate(-90)" text-anchor="middle" class="lab">Plasma glucose (mmol/L)</text>
<path d="M66.85 488.90H80.65L73.75 500.80Z" fill="none" stroke="#000" stroke-width="1.8" stroke-linejoin="round"/>
<path d="M250.8 605.0L256.0 621.5H245.6ZM250.8 621.5L256.0 638.0H245.6Z" fill="#000"/>
<rect x="249.53" y="637.0" width="2.5" height="9.0" fill="#000"/>
<path d="M268.5 605.0L273.7 621.5H263.3ZM268.5 621.5L273.7 638.0H263.3Z" fill="#000"/>
<rect x="267.24" y="637.0" width="2.5" height="9.0" fill="#000"/>
<path d="M286.2 605.0L291.4 621.5H281.0Z" fill="#000"/>
<rect x="284.95" y="620.5" width="2.5" height="9.0" fill="#000"/>
<path d="M339.3 605.0L344.5 621.5H334.1Z" fill="#000"/>
<rect x="338.08" y="620.5" width="2.5" height="9.0" fill="#000"/>
<text x="0.3" y="381.1" class="pl">B</text>
<rect x="183.0" y="726.2" width="206.0" height="292.3" fill="#e8e8e8"/>
<line x1="52.7" y1="936.9" x2="520" y2="936.9" stroke="#7c7c7c" stroke-width="2.6" stroke-dasharray="15.5 6.7"/>
<path d="M73.5 889.3H77.7M86.9 889.3H81.3V898.9H86.9M73.5 898.9H77.7" fill="none" stroke="#000" stroke-width="2.4"/>
<circle cx="81.3" cy="894.1" r="2.45" fill="#fff" stroke="#000" stroke-width="1.9"/>
<path d="M90.6 889.3H94.8M104.0 889.3H98.4V898.9H104.0M90.6 898.9H94.8" fill="none" stroke="#000" stroke-width="2.4"/>
<circle cx="98.4" cy="894.1" r="2.45" fill="#fff" stroke="#000" stroke-width="1.9"/>
<path d="M107.6 889.3H111.8M121.0 889.3H115.4V898.9H121.0M107.6 898.9H111.8" fill="none" stroke="#000" stroke-width="2.4"/>
<circle cx="115.4" cy="894.1" r="2.45" fill="#fff" stroke="#000" stroke-width="1.9"/>
<path d="M124.7 890.2H128.9M138.1 890.2H132.5V900.1H138.1M124.7 900.1H128.9" fill="none" stroke="#000" stroke-width="2.4"/>
<circle cx="132.5" cy="895.1" r="2.45" fill="#fff" stroke="#000" stroke-width="1.9"/>
<path d="M141.8 890.9H146.0M155.2 890.9H149.6V901.5H155.2M141.8 901.5H146.0" fill="none" stroke="#000" stroke-width="2.4"/>
<circle cx="149.6" cy="896.2" r="2.45" fill="#fff" stroke="#000" stroke-width="1.9"/>
<path d="M158.8 889.8H163.0M172.2 889.8H166.6V900.5H172.2M158.8 900.5H163.0" fill="none" stroke="#000" stroke-width="2.4"/>
<circle cx="166.6" cy="895.1" r="2.45" fill="#fff" stroke="#000" stroke-width="1.9"/>
<path d="M175.9 889.4H180.1M189.3 889.4H183.7V900.5H189.3M175.9 900.5H180.1" fill="none" stroke="#000" stroke-width="2.4"/>
<circle cx="183.7" cy="895.0" r="2.45" fill="#fff" stroke="#000" stroke-width="1.9"/>
<path d="M193.0 890.5H197.2M206.4 890.5H200.8V901.9H206.4M193.0 901.9H197.2" fill="none" stroke="#000" stroke-width="2.4"/>
<circle cx="200.8" cy="896.2" r="2.45" fill="#fff" stroke="#000" stroke-width="1.9"/>
<path d="M210.0 893.4H214.2M223.4 893.4H217.8V905.1H223.4M210.0 905.1H214.2" fill="none" stroke="#000" stroke-width="2.4"/>
<circle cx="217.8" cy="899.2" r="2.45" fill="#fff" stroke="#000" stroke-width="1.9"/>
<path d="M227.1 895.8H231.3M240.5 895.8H234.9V908.3H240.5M227.1 908.3H231.3" fill="none" stroke="#000" stroke-width="2.4"/>
<circle cx="234.9" cy="902.1" r="2.45" fill="#fff" stroke="#000" stroke-width="1.9"/>
<path d="M244.2 897.6H248.4M257.6 897.6H252.0V910.8H257.6M244.2 910.8H248.4" fill="none" stroke="#000" stroke-width="2.4"/>
<circle cx="252.0" cy="904.2" r="2.45" fill="#fff" stroke="#000" stroke-width="1.9"/>
<path d="M261.2 901.2H265.4M274.6 901.2H269.0V915.0H274.6M261.2 915.0H265.4" fill="none" stroke="#000" stroke-width="2.4"/>
<circle cx="269.0" cy="908.1" r="2.45" fill="#fff" stroke="#000" stroke-width="1.9"/>
<path d="M278.3 902.8H282.5M291.7 902.8H286.1V916.3H291.7M278.3 916.3H282.5" fill="none" stroke="#000" stroke-width="2.4"/>
<circle cx="286.1" cy="909.5" r="2.45" fill="#fff" stroke="#000" stroke-width="1.9"/>
<path d="M295.4 904.4H299.6M308.8 904.4H303.2V917.2H308.8M295.4 917.2H299.6" fill="none" stroke="#000" stroke-width="2.4"/>
<circle cx="303.2" cy="910.8" r="2.45" fill="#fff" stroke="#000" stroke-width="1.9"/>
<path d="M312.4 906.9H316.6M325.8 906.9H320.2V919.0H325.8M312.4 919.0H316.6" fill="none" stroke="#000" stroke-width="2.4"/>
<circle cx="320.2" cy="912.9" r="2.45" fill="#fff" stroke="#000" stroke-width="1.9"/>
<path d="M329.5 909.0H333.7M342.9 909.0H337.3V920.4H342.9M329.5 920.4H333.7" fill="none" stroke="#000" stroke-width="2.4"/>
<circle cx="337.3" cy="914.7" r="2.45" fill="#fff" stroke="#000" stroke-width="1.9"/>
<path d="M346.6 910.8H350.8M360.0 910.8H354.4V921.8H360.0M346.6 921.8H350.8" fill="none" stroke="#000" stroke-width="2.4"/>
<circle cx="354.4" cy="916.3" r="2.45" fill="#fff" stroke="#000" stroke-width="1.9"/>
<path d="M363.6 912.0H367.8M377.0 912.0H371.4V923.0H377.0M363.6 923.0H367.8" fill="none" stroke="#000" stroke-width="2.4"/>
<circle cx="371.4" cy="917.5" r="2.45" fill="#fff" stroke="#000" stroke-width="1.9"/>
<path d="M380.7 912.9H384.9M394.1 912.9H388.5V923.9H394.1M380.7 923.9H384.9" fill="none" stroke="#000" stroke-width="2.4"/>
<circle cx="388.5" cy="918.4" r="2.45" fill="#fff" stroke="#000" stroke-width="1.9"/>
<path d="M397.8 912.2H402.0M411.2 912.2H405.6V923.6H411.2M397.8 923.6H402.0" fill="none" stroke="#000" stroke-width="2.4"/>
<circle cx="405.6" cy="917.9" r="2.45" fill="#fff" stroke="#000" stroke-width="1.9"/>
<path d="M414.8 911.7H419.0M428.2 911.7H422.6V923.4H428.2M414.8 923.4H419.0" fill="none" stroke="#000" stroke-width="2.4"/>
<circle cx="422.6" cy="917.5" r="2.45" fill="#fff" stroke="#000" stroke-width="1.9"/>
<path d="M431.9 911.1H436.1M445.3 911.1H439.7V923.2H445.3M431.9 923.2H436.1" fill="none" stroke="#000" stroke-width="2.4"/>
<circle cx="439.7" cy="917.2" r="2.45" fill="#fff" stroke="#000" stroke-width="1.9"/>
<path d="M449.0 910.6H453.2M462.4 910.6H456.8V923.0H462.4M449.0 923.0H453.2" fill="none" stroke="#000" stroke-width="2.4"/>
<circle cx="456.8" cy="916.8" r="2.45" fill="#fff" stroke="#000" stroke-width="1.9"/>
<path d="M466.0 909.9H470.2M479.4 909.9H473.8V922.7H479.4M466.0 922.7H470.2" fill="none" stroke="#000" stroke-width="2.4"/>
<circle cx="473.8" cy="916.3" r="2.45" fill="#fff" stroke="#000" stroke-width="1.9"/>
<path d="M483.1 908.6H487.3M496.5 908.6H490.9V921.4H496.5M483.1 921.4H487.3" fill="none" stroke="#000" stroke-width="2.4"/>
<circle cx="490.9" cy="915.0" r="2.45" fill="#fff" stroke="#000" stroke-width="1.9"/>
<path d="M73.7 885.5H88.9M81.3 885.5V892.6M73.7 892.6H88.9" fill="none" stroke="#000" stroke-width="2.8"/>
<circle cx="81.3" cy="889.1" r="3.25" fill="#000"/>
<path d="M90.8 885.0H106.0M98.4 885.0V892.1M90.8 892.1H106.0" fill="none" stroke="#000" stroke-width="2.8"/>
<circle cx="98.4" cy="888.6" r="3.25" fill="#000"/>
<path d="M107.8 884.1H123.0M115.4 884.1V891.2M107.8 891.2H123.0" fill="none" stroke="#000" stroke-width="2.8"/>
<circle cx="115.4" cy="887.7" r="3.25" fill="#000"/>
<path d="M124.9 884.6H140.1M132.5 884.6V892.5M124.9 892.5H140.1" fill="none" stroke="#000" stroke-width="2.8"/>
<circle cx="132.5" cy="888.6" r="3.25" fill="#000"/>
<path d="M142.0 878.2H157.2M149.6 878.2V888.9M142.0 888.9H157.2" fill="none" stroke="#000" stroke-width="2.8"/>
<circle cx="149.6" cy="883.6" r="3.25" fill="#000"/>
<path d="M159.0 874.9H174.2M166.6 874.9V885.5M159.0 885.5H174.2" fill="none" stroke="#000" stroke-width="2.8"/>
<circle cx="166.6" cy="880.2" r="3.25" fill="#000"/>
<path d="M176.1 869.9H191.3M183.7 869.9V880.6M176.1 880.6H191.3" fill="none" stroke="#000" stroke-width="2.8"/>
<circle cx="183.7" cy="875.2" r="3.25" fill="#000"/>
<path d="M193.2 866.3H208.4M200.8 866.3V877.0M193.2 877.0H208.4" fill="none" stroke="#000" stroke-width="2.8"/>
<circle cx="200.8" cy="871.7" r="3.25" fill="#000"/>
<path d="M210.2 861.9H225.4M217.8 861.9V873.3M210.2 873.3H225.4" fill="none" stroke="#000" stroke-width="2.8"/>
<circle cx="217.8" cy="867.6" r="3.25" fill="#000"/>
<path d="M227.3 858.5H242.5M234.9 858.5V869.9M227.3 869.9H242.5" fill="none" stroke="#000" stroke-width="2.8"/>
<circle cx="234.9" cy="864.2" r="3.25" fill="#000"/>
<path d="M244.4 858.0H259.6M252.0 858.0V870.4M244.4 870.4H259.6" fill="none" stroke="#000" stroke-width="2.8"/>
<circle cx="252.0" cy="864.2" r="3.25" fill="#000"/>
<path d="M261.4 858.9H276.6M269.0 858.9V871.3M261.4 871.3H276.6" fill="none" stroke="#000" stroke-width="2.8"/>
<circle cx="269.0" cy="865.1" r="3.25" fill="#000"/>
<path d="M278.5 861.3H293.7M286.1 861.3V873.8M278.5 873.8H293.7" fill="none" stroke="#000" stroke-width="2.8"/>
<circle cx="286.1" cy="867.6" r="3.25" fill="#000"/>
<path d="M295.6 864.4H310.8M303.2 864.4V876.8M295.6 876.8H310.8" fill="none" stroke="#000" stroke-width="2.8"/>
<circle cx="303.2" cy="870.6" r="3.25" fill="#000"/>
<path d="M312.6 866.9H327.8M320.2 866.9V881.1M312.6 881.1H327.8" fill="none" stroke="#000" stroke-width="2.8"/>
<circle cx="320.2" cy="874.0" r="3.25" fill="#000"/>
<path d="M329.7 871.1H344.9M337.3 871.1V887.1M329.7 887.1H344.9" fill="none" stroke="#000" stroke-width="2.8"/>
<circle cx="337.3" cy="879.1" r="3.25" fill="#000"/>
<path d="M346.8 875.2H362.0M354.4 875.2V892.3M346.8 892.3H362.0" fill="none" stroke="#000" stroke-width="2.8"/>
<circle cx="354.4" cy="883.8" r="3.25" fill="#000"/>
<path d="M363.8 881.1H379.0M371.4 881.1V898.9M363.8 898.9H379.0" fill="none" stroke="#000" stroke-width="2.8"/>
<circle cx="371.4" cy="890.0" r="3.25" fill="#000"/>
<path d="M380.9 883.8H396.1M388.5 883.8V902.2M380.9 902.2H396.1" fill="none" stroke="#000" stroke-width="2.8"/>
<circle cx="388.5" cy="893.0" r="3.25" fill="#000"/>
<path d="M398.0 884.1H413.2M405.6 884.1V903.7M398.0 903.7H413.2" fill="none" stroke="#000" stroke-width="2.8"/>
<circle cx="405.6" cy="893.9" r="3.25" fill="#000"/>
<path d="M415.0 882.0H430.2M422.6 882.0V901.5M415.0 901.5H430.2" fill="none" stroke="#000" stroke-width="2.8"/>
<circle cx="422.6" cy="891.8" r="3.25" fill="#000"/>
<path d="M432.1 879.7H447.3M439.7 879.7V900.3M432.1 900.3H447.3" fill="none" stroke="#000" stroke-width="2.8"/>
<circle cx="439.7" cy="890.0" r="3.25" fill="#000"/>
<path d="M449.2 877.7H464.4M456.8 877.7V898.3M449.2 898.3H464.4" fill="none" stroke="#000" stroke-width="2.8"/>
<circle cx="456.8" cy="888.0" r="3.25" fill="#000"/>
<path d="M466.2 875.2H481.4M473.8 875.2V896.6M466.2 896.6H481.4" fill="none" stroke="#000" stroke-width="2.8"/>
<circle cx="473.8" cy="885.9" r="3.25" fill="#000"/>
<path d="M483.3 873.1H498.5M490.9 873.1V894.4M483.3 894.4H498.5" fill="none" stroke="#000" stroke-width="2.8"/>
<circle cx="490.9" cy="883.8" r="3.25" fill="#000"/>
<path d="M52.7 726.2V1018.5H520" fill="none" stroke="#000" stroke-width="2.7" stroke-linejoin="round"/>
<line x1="47.2" y1="1005.2" x2="52.7" y2="1005.2" stroke="#222" stroke-width="2"/>
<text x="43.4" y="1011.0" text-anchor="end" class="tk">0</text>
<line x1="47.2" y1="916.5" x2="52.7" y2="916.5" stroke="#222" stroke-width="2"/>
<text x="43.4" y="922.3" text-anchor="end" class="tk">5</text>
<line x1="47.2" y1="827.8" x2="52.7" y2="827.8" stroke="#222" stroke-width="2"/>
<text x="43.4" y="833.6" text-anchor="end" class="tk">10</text>
<line x1="47.2" y1="739.1" x2="52.7" y2="739.1" stroke="#222" stroke-width="2"/>
<text x="43.4" y="744.9" text-anchor="end" class="tk">15</text>
<line x1="81.3" y1="1018.5" x2="81.3" y2="1024.0" stroke="#222" stroke-width="2.1"/>
<text x="81.3" y="1039.6" text-anchor="middle" class="tk">−30</text>
<line x1="183.7" y1="1018.5" x2="183.7" y2="1024.0" stroke="#222" stroke-width="2.1"/>
<text x="183.7" y="1039.6" text-anchor="middle" class="tk">0</text>
<line x1="286.1" y1="1018.5" x2="286.1" y2="1024.0" stroke="#222" stroke-width="2.1"/>
<text x="286.1" y="1039.6" text-anchor="middle" class="tk">30</text>
<line x1="388.5" y1="1018.5" x2="388.5" y2="1024.0" stroke="#222" stroke-width="2.1"/>
<text x="388.5" y="1039.6" text-anchor="middle" class="tk">60</text>
<line x1="490.9" y1="1018.5" x2="490.9" y2="1024.0" stroke="#222" stroke-width="2.1"/>
<text x="490.9" y="1039.6" text-anchor="middle" class="tk">90</text>
<text transform="translate(15 871.5) rotate(-90)" text-anchor="middle" class="lab">Plasma glucose (mmol/L)</text>
<path d="M74.65 841.80H88.45L81.55 853.70Z" fill="none" stroke="#000" stroke-width="1.8" stroke-linejoin="round"/>
<text x="0.3" y="739.3" class="pl">C</text>
<text x="286.75" y="1063.5" text-anchor="middle" class="lab">Time (min)</text>
</svg>
</body></html>
